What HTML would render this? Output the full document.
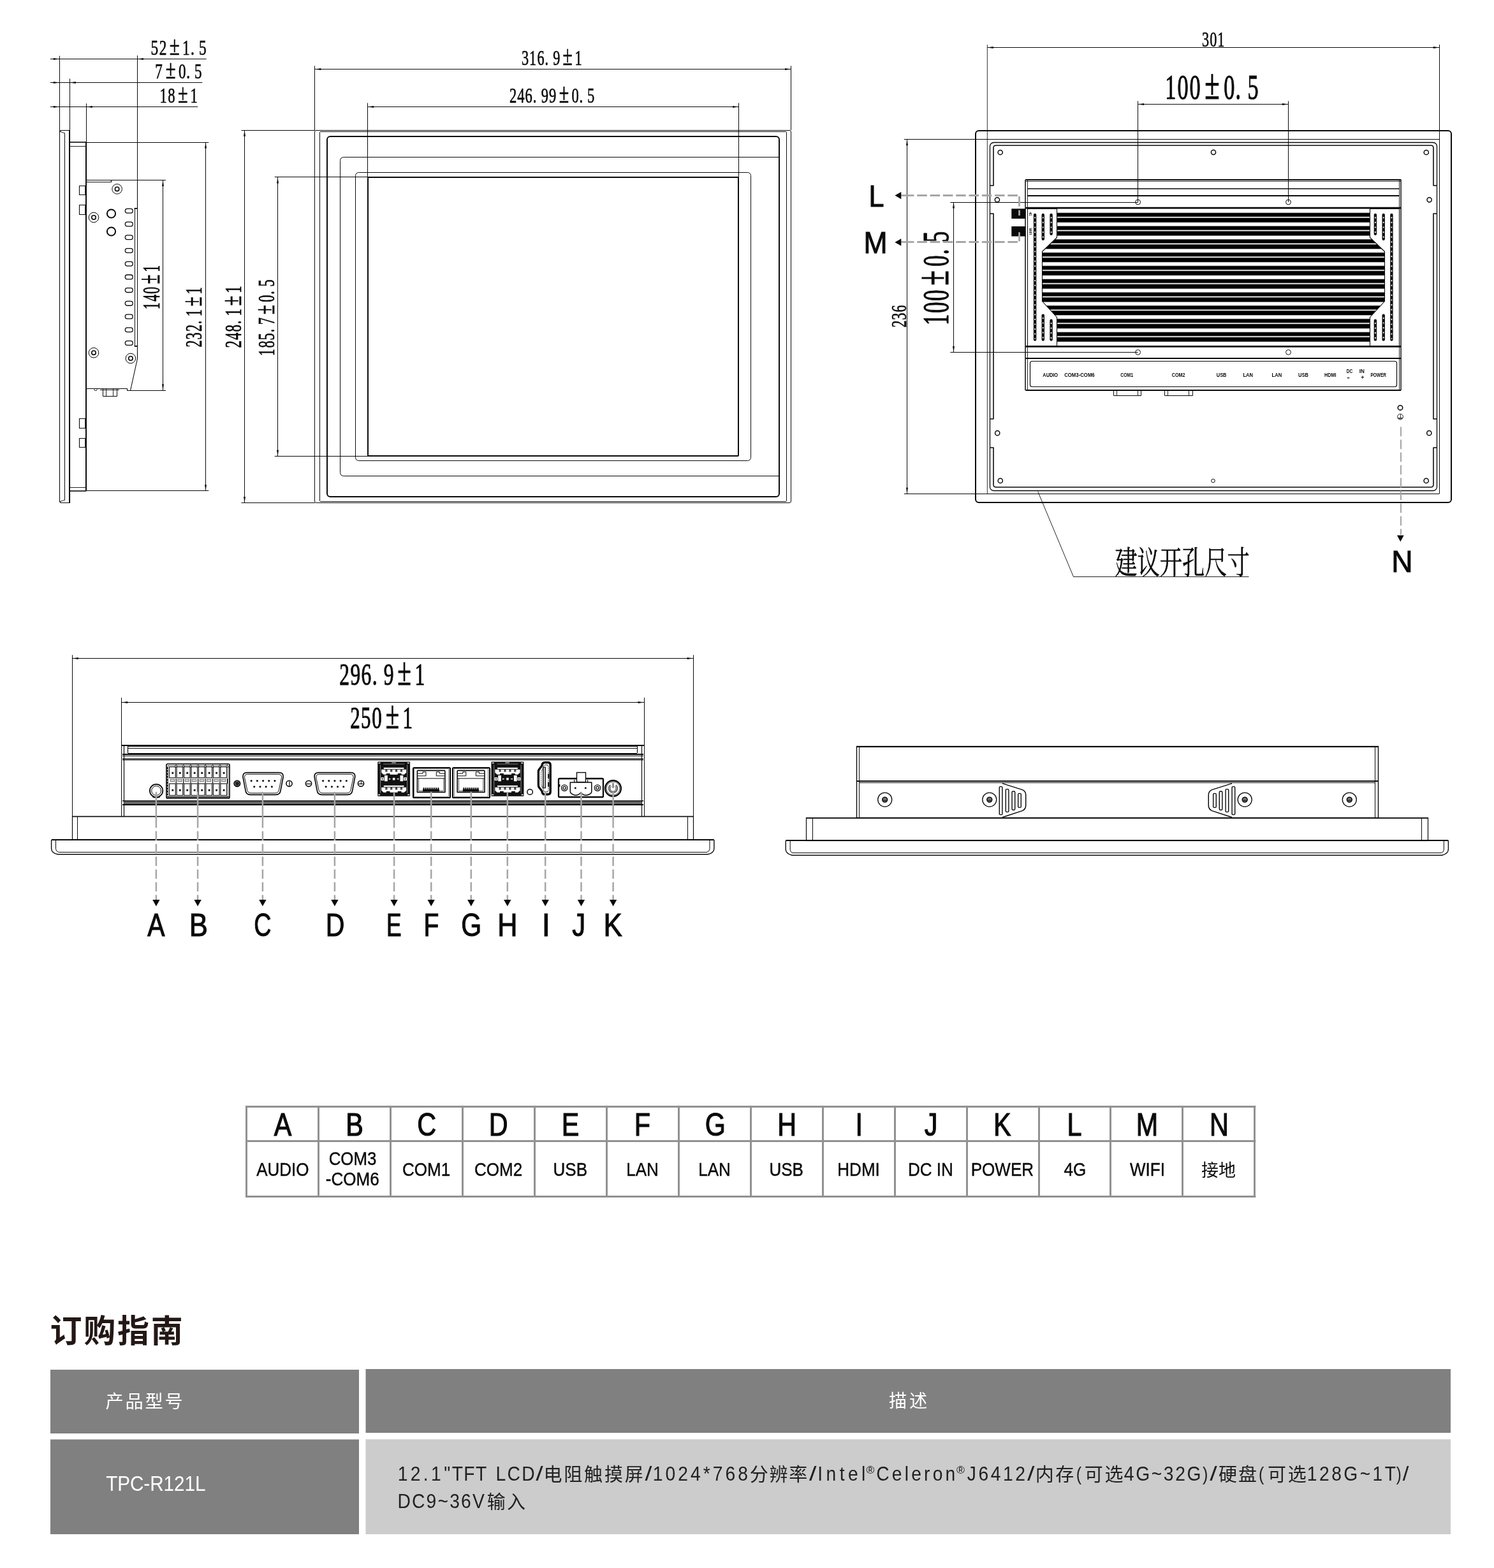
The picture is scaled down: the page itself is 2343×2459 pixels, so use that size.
<!DOCTYPE html>
<html lang="zh-CN">
<head>
<meta charset="utf-8">
<title>TPC-R121L</title>
<style>
html,body{margin:0;padding:0;background:#fff;}
body{width:2343px;height:2459px;overflow:hidden;}
svg{display:block;will-change:transform;}
text{white-space:pre;font-kerning:none;}
</style>
</head>
<body>
<svg width="2343" height="2459" viewBox="0 0 2343 2459">
<rect width="2343" height="2459" fill="#fff"/>
<g id="side-view">
<path d="M93.5 87.6L93.5 206" stroke="#0a0a0a" stroke-width="1" fill="none"/>
<path d="M109.5 123.4L109.5 205" stroke="#0a0a0a" stroke-width="1" fill="none"/>
<path d="M135.5 162.3L135.5 223" stroke="#0a0a0a" stroke-width="1" fill="none"/>
<path d="M215.5 87L215.5 327" stroke="#0a0a0a" stroke-width="1" fill="none"/>
<path d="M78.8 92.5L323.7 92.5" stroke="#0a0a0a" stroke-width="1" fill="none"/>
<polygon points="93.3,92.5 83.8,91 83.8,94" fill="#0a0a0a"/>
<polygon points="215.4,92.5 224.9,91 224.9,94" fill="#0a0a0a"/>
<path d="M78.8 129.5L317.3 129.5" stroke="#0a0a0a" stroke-width="1" fill="none"/>
<polygon points="93.3,129.5 83.8,128 83.8,131" fill="#0a0a0a"/>
<polygon points="109.3,129.5 118.8,128 118.8,131" fill="#0a0a0a"/>
<path d="M78.8 167.5L310.3 167.5" stroke="#0a0a0a" stroke-width="1" fill="none"/>
<polygon points="93.3,167.5 83.8,166 83.8,169" fill="#0a0a0a"/>
<polygon points="135.3,167.5 144.8,166 144.8,169" fill="#0a0a0a"/>
<text transform="translate(237.7 85.9) scale(0.71 1)" font-family="'Liberation Serif','Noto Serif CJK SC',serif" font-size="32.93" fill="#0a0a0a" stroke="#0a0a0a" stroke-width="0.65"><tspan x="-1.56">5</tspan><tspan x="17.07">2</tspan><tspan x="39.67" font-size="41.16">±</tspan><tspan x="68.1">1</tspan><tspan x="86.23">.</tspan><tspan x="104.51">5</tspan></text>
<text transform="translate(244.6 123) scale(0.7 1)" font-family="'Liberation Serif','Noto Serif CJK SC',serif" font-size="32.93" fill="#0a0a0a" stroke="#0a0a0a" stroke-width="0.65"><tspan x="-1.86">7</tspan><tspan x="21.54" font-size="41.16">±</tspan><tspan x="50.43">0</tspan><tspan x="68.1">.</tspan><tspan x="86.38">5</tspan></text>
<text transform="translate(251.6 160.6) scale(0.69 1)" font-family="'Liberation Serif','Noto Serif CJK SC',serif" font-size="32.93" fill="#0a0a0a" stroke="#0a0a0a" stroke-width="0.65"><tspan x="-1.71">1</tspan><tspan x="16.88">8</tspan><tspan x="39.67" font-size="41.16">±</tspan><tspan x="68.1">1</tspan></text>
<path d="M93.5 206.5L95.5 204.5H109.5V788.5H95.5L93.5 786.5Z" stroke="#0a0a0a" stroke-width="1.1" fill="none" stroke-linejoin="round"/>
<path d="M101.5 208.5L101.5 784.5" stroke="#0a0a0a" stroke-width="1" fill="none"/>
<path d="M93.6 206L101.2 208.8" stroke="#0a0a0a" stroke-width="0.9" fill="none"/>
<path d="M93.6 786.8L101.2 784.2" stroke="#0a0a0a" stroke-width="0.9" fill="none"/>
<path d="M109 204.3L109 788.5" stroke="#0a0a0a" stroke-width="1.9" fill="none"/>
<path d="M109.3 223L135.3 223" stroke="#0a0a0a" stroke-width="1.6" fill="none"/>
<path d="M109.3 229.5L135.3 229.5" stroke="#0a0a0a" stroke-width="0.9" fill="none"/>
<path d="M109.3 770L135.3 770" stroke="#0a0a0a" stroke-width="1.6" fill="none"/>
<path d="M109.3 764.5L135.3 764.5" stroke="#0a0a0a" stroke-width="0.9" fill="none"/>
<path d="M135 223L135 769.7" stroke="#0a0a0a" stroke-width="2" fill="none"/>
<path d="M135.5 291.5H124.5V305.5H135.5" stroke="#0a0a0a" stroke-width="1.1" fill="none" stroke-linejoin="round"/>
<path d="M133.5 291.3L133.5 305.5" stroke="#0a0a0a" stroke-width="0.8" fill="none"/>
<path d="M135.5 321.5H124.5V336.5H135.5" stroke="#0a0a0a" stroke-width="1.1" fill="none" stroke-linejoin="round"/>
<path d="M133.5 321.7L133.5 336.4" stroke="#0a0a0a" stroke-width="0.8" fill="none"/>
<path d="M135.5 656.5H124.5V671.5H135.5" stroke="#0a0a0a" stroke-width="1.1" fill="none" stroke-linejoin="round"/>
<path d="M133.5 656.7L133.5 671.2" stroke="#0a0a0a" stroke-width="0.8" fill="none"/>
<path d="M135.5 687.5H124.5V701.5H135.5" stroke="#0a0a0a" stroke-width="1.1" fill="none" stroke-linejoin="round"/>
<path d="M133.5 687.2L133.5 701.5" stroke="#0a0a0a" stroke-width="0.8" fill="none"/>
<path d="M135.5 282.5H215.5V326.5" stroke="#0a0a0a" stroke-width="1.1" fill="none" stroke-linejoin="round"/>
<path d="M135.5 282.5H174.5V285.5H135.5" stroke="#0a0a0a" stroke-width="1.2" fill="none" stroke-linejoin="round"/>
<path d="M215.5 542.5V562.5L204.5 612.5H199.5V609.5H135.5" stroke="#0a0a0a" stroke-width="1.1" fill="none" stroke-linejoin="round"/>
<rect x="211.5" y="326.5" width="4" height="216" stroke="#0a0a0a" stroke-width="1" fill="none"/>
<path d="M210.6 327L215.6 327" stroke="#0a0a0a" stroke-width="1.6" fill="none"/>
<path d="M210.6 543L215.6 543" stroke="#0a0a0a" stroke-width="1.6" fill="none"/>
<path d="M161.5 609.5V621.5H183.5V609.5" stroke="#0a0a0a" stroke-width="1" fill="none" stroke-linejoin="round"/>
<path d="M166.5 609.8L166.5 621.1" stroke="#0a0a0a" stroke-width="0.9" fill="none"/>
<path d="M177.5 609.8L177.5 621.1" stroke="#0a0a0a" stroke-width="0.9" fill="none"/>
<path d="M157 611.5L187 611.5" stroke="#0a0a0a" stroke-width="0.9" fill="none"/>
<path d="M147.5 609.5l1 3h3l1 -3" stroke="#0a0a0a" stroke-width="0.8" fill="none" stroke-linejoin="round"/>
<circle cx="183.6" cy="296.4" r="7.8" stroke="#0a0a0a" stroke-width="1" fill="#fff"/>
<circle cx="183.6" cy="296.4" r="3.2" stroke="#0a0a0a" stroke-width="1.6" fill="none"/>
<circle cx="147" cy="341" r="7.8" stroke="#0a0a0a" stroke-width="1" fill="#fff"/>
<circle cx="147" cy="341" r="3.2" stroke="#0a0a0a" stroke-width="1.6" fill="none"/>
<circle cx="147" cy="553.2" r="7.8" stroke="#0a0a0a" stroke-width="1" fill="#fff"/>
<circle cx="147" cy="553.2" r="3.2" stroke="#0a0a0a" stroke-width="1.6" fill="none"/>
<circle cx="204.9" cy="562" r="7.8" stroke="#0a0a0a" stroke-width="1" fill="#fff"/>
<circle cx="204.9" cy="562" r="3.2" stroke="#0a0a0a" stroke-width="1.6" fill="none"/>
<circle cx="174.5" cy="335" r="6.6" stroke="#0a0a0a" stroke-width="2" fill="none"/>
<circle cx="174.5" cy="363" r="6.6" stroke="#0a0a0a" stroke-width="2" fill="none"/>
<rect x="196.3" y="327.4" width="12" height="6.8" rx="3.4" stroke="#0a0a0a" stroke-width="1.3" fill="none"/>
<rect x="196.3" y="348.12" width="12" height="6.8" rx="3.4" stroke="#0a0a0a" stroke-width="1.3" fill="none"/>
<rect x="196.3" y="368.84" width="12" height="6.8" rx="3.4" stroke="#0a0a0a" stroke-width="1.3" fill="none"/>
<rect x="196.3" y="389.56" width="12" height="6.8" rx="3.4" stroke="#0a0a0a" stroke-width="1.3" fill="none"/>
<rect x="196.3" y="410.28" width="12" height="6.8" rx="3.4" stroke="#0a0a0a" stroke-width="1.3" fill="none"/>
<rect x="196.3" y="431" width="12" height="6.8" rx="3.4" stroke="#0a0a0a" stroke-width="1.3" fill="none"/>
<rect x="196.3" y="451.72" width="12" height="6.8" rx="3.4" stroke="#0a0a0a" stroke-width="1.3" fill="none"/>
<rect x="196.3" y="472.44" width="12" height="6.8" rx="3.4" stroke="#0a0a0a" stroke-width="1.3" fill="none"/>
<rect x="196.3" y="493.16" width="12" height="6.8" rx="3.4" stroke="#0a0a0a" stroke-width="1.3" fill="none"/>
<rect x="196.3" y="513.88" width="12" height="6.8" rx="3.4" stroke="#0a0a0a" stroke-width="1.3" fill="none"/>
<rect x="196.3" y="534.6" width="12" height="6.8" rx="3.4" stroke="#0a0a0a" stroke-width="1.3" fill="none"/>
<path d="M215.4 282.5L260 282.5" stroke="#0a0a0a" stroke-width="1" fill="none"/>
<path d="M204.6 612.5L260 612.5" stroke="#0a0a0a" stroke-width="1" fill="none"/>
<path d="M255.5 282.4L255.5 612" stroke="#0a0a0a" stroke-width="1" fill="none"/>
<polygon points="255.5,282.4 254,291.9 257,291.9" fill="#0a0a0a"/>
<polygon points="255.5,612 254,602.5 257,602.5" fill="#0a0a0a"/>
<text transform="translate(250 484) rotate(-90) scale(0.57 1)" font-family="'Liberation Serif','Noto Serif CJK SC',serif" font-size="38.37" fill="#0a0a0a" stroke="#0a0a0a" stroke-width="0.76"><tspan x="-1.99">1</tspan><tspan x="19.59">4</tspan><tspan x="40.8">0</tspan><tspan x="67.35" font-size="47.96">±</tspan><tspan x="100.48">1</tspan></text>
<path d="M135.3 223.5L327.3 223.5" stroke="#0a0a0a" stroke-width="1" fill="none"/>
<path d="M135.3 769.5L327.3 769.5" stroke="#0a0a0a" stroke-width="1" fill="none"/>
<path d="M322.5 223L322.5 769.7" stroke="#0a0a0a" stroke-width="1" fill="none"/>
<polygon points="322.5,223 321,232.5 324,232.5" fill="#0a0a0a"/>
<polygon points="322.5,769.7 321,760.2 324,760.2" fill="#0a0a0a"/>
<text transform="translate(316.4 543.7) rotate(-90) scale(0.61 1)" font-family="'Liberation Serif','Noto Serif CJK SC',serif" font-size="36.25" fill="#0a0a0a" stroke="#0a0a0a" stroke-width="0.72"><tspan x="-1.17">2</tspan><tspan x="18.43">3</tspan><tspan x="38.75">2</tspan><tspan x="58">.</tspan><tspan x="77.97">1</tspan><tspan x="103.56" font-size="45.32">±</tspan><tspan x="134.87">1</tspan></text>
<path d="M378.5 204.5L493.9 204.5" stroke="#0a0a0a" stroke-width="1" fill="none"/>
<path d="M378.5 788.5L493.9 788.5" stroke="#0a0a0a" stroke-width="1" fill="none"/>
<path d="M383.5 204.3L383.5 788.5" stroke="#0a0a0a" stroke-width="1" fill="none"/>
<polygon points="383.5,204.3 382,213.8 385,213.8" fill="#0a0a0a"/>
<polygon points="383.5,788.5 382,779 385,779" fill="#0a0a0a"/>
<text transform="translate(378 544.7) rotate(-90) scale(0.63 1)" font-family="'Liberation Serif','Noto Serif CJK SC',serif" font-size="36.25" fill="#0a0a0a" stroke="#0a0a0a" stroke-width="0.72"><tspan x="-1.17">2</tspan><tspan x="18.51">4</tspan><tspan x="38.55">8</tspan><tspan x="58">.</tspan><tspan x="77.97">1</tspan><tspan x="103.56" font-size="45.32">±</tspan><tspan x="134.87">1</tspan></text>
<path d="M430.7 277.5L577 277.5" stroke="#0a0a0a" stroke-width="1" fill="none"/>
<path d="M430.7 715.5L577 715.5" stroke="#0a0a0a" stroke-width="1" fill="none"/>
<path d="M435.5 277.9L435.5 715.2" stroke="#0a0a0a" stroke-width="1" fill="none"/>
<polygon points="435.5,277.9 434,287.4 437,287.4" fill="#0a0a0a"/>
<polygon points="435.5,715.2 434,705.7 437,705.7" fill="#0a0a0a"/>
<text transform="translate(429.5 557) rotate(-90) scale(0.62 1)" font-family="'Liberation Serif','Noto Serif CJK SC',serif" font-size="35.95" fill="#0a0a0a" stroke="#0a0a0a" stroke-width="0.71"><tspan x="-1.87">1</tspan><tspan x="18.43">8</tspan><tspan x="37.89">5</tspan><tspan x="57.52">.</tspan><tspan x="77.15">7</tspan><tspan x="102.7" font-size="44.94">±</tspan><tspan x="134.24">0</tspan><tspan x="153.53">.</tspan><tspan x="173.49">5</tspan></text>
</g>
<g id="front-view">
<path d="M493.5 103.3L493.5 204.2" stroke="#0a0a0a" stroke-width="1" fill="none"/>
<path d="M1240.5 103.3L1240.5 204.2" stroke="#0a0a0a" stroke-width="1" fill="none"/>
<path d="M493.9 108.5L1240.6 108.5" stroke="#0a0a0a" stroke-width="1" fill="none"/>
<polygon points="493.9,108.5 503.4,107 503.4,110" fill="#0a0a0a"/>
<polygon points="1240.6,108.5 1231.1,107 1231.1,110" fill="#0a0a0a"/>
<path d="M576.5 161.5L576.5 278" stroke="#0a0a0a" stroke-width="1" fill="none"/>
<path d="M1158.5 161.5L1158.5 278" stroke="#0a0a0a" stroke-width="1" fill="none"/>
<path d="M576.6 167.5L1158.6 167.5" stroke="#0a0a0a" stroke-width="1" fill="none"/>
<polygon points="576.6,167.5 586.1,166 586.1,169" fill="#0a0a0a"/>
<polygon points="1158.6,167.5 1149.1,166 1149.1,169" fill="#0a0a0a"/>
<text transform="translate(818.9 101.7) scale(0.64 1)" font-family="'Liberation Serif','Noto Serif CJK SC',serif" font-size="34.74" fill="#0a0a0a" stroke="#0a0a0a" stroke-width="0.69"><tspan x="-1.47">3</tspan><tspan x="17.33">1</tspan><tspan x="36.71">6</tspan><tspan x="55.58">.</tspan><tspan x="75.36">9</tspan><tspan x="99.25" font-size="43.43">±</tspan><tspan x="129.25">1</tspan></text>
<text transform="translate(799.7 160.8) scale(0.65 1)" font-family="'Liberation Serif','Noto Serif CJK SC',serif" font-size="34.74" fill="#0a0a0a" stroke="#0a0a0a" stroke-width="0.69"><tspan x="-1.13">2</tspan><tspan x="17.74">4</tspan><tspan x="36.71">6</tspan><tspan x="55.58">.</tspan><tspan x="75.36">9</tspan><tspan x="94.49">9</tspan><tspan x="118.38" font-size="43.43">±</tspan><tspan x="148.86">0</tspan><tspan x="167.5">.</tspan><tspan x="186.79">5</tspan></text>
<rect x="493.5" y="204.5" width="747" height="584" rx="2.5" stroke="#0a0a0a" stroke-width="1" fill="none"/>
<rect x="501.5" y="206.5" width="732" height="580" rx="1" stroke="#0a0a0a" stroke-width="1" fill="none"/>
<rect x="513" y="214" width="709" height="565" rx="5" stroke="#0a0a0a" stroke-width="2" fill="none"/>
<path d="M1221.5 246.5H539.5Q533.5 246.5 533.5 252.5V740.5Q533.5 746.5 539.5 746.5H1221.5" stroke="#0a0a0a" stroke-width="1" fill="none" stroke-linejoin="round"/>
<rect x="557.5" y="270.5" width="620" height="452" rx="5" stroke="#0a0a0a" stroke-width="1" fill="none"/>
<rect x="577" y="278" width="581" height="437" rx="1" stroke="#0a0a0a" stroke-width="2" fill="none"/>
</g>
<g id="back-view">
<path d="M1548.4 70L1548.4 774.3" stroke="#555" stroke-width="1.2" fill="none"/>
<path d="M2257.5 70L2257.5 774.3" stroke="#0a0a0a" stroke-width="1" fill="none"/>
<path d="M1417.8 218.5L2257.3 218.5" stroke="#0a0a0a" stroke-width="1" fill="none"/>
<path d="M1417.8 774.5L2257.3 774.5" stroke="#0a0a0a" stroke-width="1" fill="none"/>
<path d="M1548.3 74.5L2257.3 74.5" stroke="#0a0a0a" stroke-width="1" fill="none"/>
<polygon points="1548.3,74.5 1557.8,73 1557.8,76" fill="#0a0a0a"/>
<polygon points="2257.3,74.5 2247.8,73 2247.8,76" fill="#0a0a0a"/>
<text transform="translate(1886 73.4) scale(0.65 1)" font-family="'Liberation Serif','Noto Serif CJK SC',serif" font-size="34.14" fill="#0a0a0a" stroke="#0a0a0a" stroke-width="0.68"><tspan x="-1.45">3</tspan><tspan x="17.5">0</tspan><tspan x="35.82">1</tspan></text>
<path d="M1422.5 218.4L1422.5 774.3" stroke="#0a0a0a" stroke-width="1" fill="none"/>
<polygon points="1422.5,218.4 1421,227.9 1424,227.9" fill="#0a0a0a"/>
<polygon points="1422.5,774.3 1421,764.8 1424,764.8" fill="#0a0a0a"/>
<text transform="translate(1421.3 512.9) rotate(-90) scale(0.64 1)" font-family="'Liberation Serif','Noto Serif CJK SC',serif" font-size="34.44" fill="#0a0a0a" stroke="#0a0a0a" stroke-width="0.68"><tspan x="-1.12">2</tspan><tspan x="17.5">3</tspan><tspan x="36.39">6</tspan></text>
<path d="M1784.6 163.5L2020.5 163.5" stroke="#0a0a0a" stroke-width="1" fill="none"/>
<polygon points="1784.6,163.5 1794.1,162 1794.1,165" fill="#0a0a0a"/>
<polygon points="2020.5,163.5 2011,162 2011,165" fill="#0a0a0a"/>
<text transform="translate(1829 154.5) scale(0.63 1)" font-family="'Liberation Serif','Noto Serif CJK SC',serif" font-size="54.38" fill="#0a0a0a" stroke="#0a0a0a" stroke-width="1.08"><tspan x="-2.82">1</tspan><tspan x="27.88">0</tspan><tspan x="57.82">0</tspan><tspan x="95.45" font-size="67.98">±</tspan><tspan x="143.17">0</tspan><tspan x="172.34">.</tspan><tspan x="202.54">5</tspan></text>
<path d="M1495.5 317L1495.5 552.4" stroke="#0a0a0a" stroke-width="1" fill="none"/>
<polygon points="1495.5,317 1494,326.5 1497,326.5" fill="#0a0a0a"/>
<polygon points="1495.5,552.4 1494,542.9 1497,542.9" fill="#0a0a0a"/>
<text transform="translate(1487.1 508.3) rotate(-90) scale(0.6 1)" font-family="'Liberation Serif','Noto Serif CJK SC',serif" font-size="57.4" fill="#0a0a0a" stroke="#0a0a0a" stroke-width="1.14"><tspan x="-2.98">1</tspan><tspan x="29.43">0</tspan><tspan x="61.04">0</tspan><tspan x="100.76" font-size="71.75">±</tspan><tspan x="151.12">0</tspan><tspan x="181.91">.</tspan><tspan x="213.79">5</tspan></text>
<rect x="1530" y="205" width="746" height="583" rx="5" stroke="#0a0a0a" stroke-width="2" fill="none"/>
<rect x="1552.5" y="223.5" width="701" height="546" rx="6" stroke="#0a0a0a" stroke-width="1.3" fill="none"/>
<path d="M1553 291H1558V232Q1558 228 1562 228H1903" stroke="#0a0a0a" stroke-width="1.6" fill="none" stroke-linejoin="round"/>
<path d="M1553 335H1558V657H1553" stroke="#0a0a0a" stroke-width="1.6" fill="none" stroke-linejoin="round"/>
<path d="M1553 702H1558V760Q1558 764 1562 764H1903" stroke="#0a0a0a" stroke-width="1.6" fill="none" stroke-linejoin="round"/>
<path d="M2253 291H2248V232Q2248 228 2244 228H1903" stroke="#0a0a0a" stroke-width="1.6" fill="none" stroke-linejoin="round"/>
<path d="M2253 335H2248V657H2253" stroke="#0a0a0a" stroke-width="1.6" fill="none" stroke-linejoin="round"/>
<path d="M2253 702H2248V760Q2248 764 2244 764H1903" stroke="#0a0a0a" stroke-width="1.6" fill="none" stroke-linejoin="round"/>
<circle cx="1568.7" cy="239" r="3.6" stroke="#0a0a0a" stroke-width="1.5" fill="none"/>
<circle cx="2236.8" cy="239" r="3.6" stroke="#0a0a0a" stroke-width="1.5" fill="none"/>
<circle cx="1563.9" cy="313.3" r="3.6" stroke="#0a0a0a" stroke-width="1.5" fill="none"/>
<circle cx="2241.6" cy="313.3" r="3.6" stroke="#0a0a0a" stroke-width="1.5" fill="none"/>
<circle cx="1564.2" cy="679.2" r="3.6" stroke="#0a0a0a" stroke-width="1.5" fill="none"/>
<circle cx="2241.3" cy="679.2" r="3.6" stroke="#0a0a0a" stroke-width="1.5" fill="none"/>
<circle cx="1568.8" cy="753.9" r="3.6" stroke="#0a0a0a" stroke-width="1.5" fill="none"/>
<circle cx="2236.7" cy="753.9" r="3.6" stroke="#0a0a0a" stroke-width="1.5" fill="none"/>
<circle cx="1903" cy="238.8" r="3.6" stroke="#0a0a0a" stroke-width="1.5" fill="none"/>
<circle cx="1902.5" cy="754" r="2.8" stroke="#0a0a0a" stroke-width="1" fill="none"/>
<rect x="1608.4" y="281.8" width="588.7" height="330.2" fill="#fff"/>
<rect x="1634" y="333.4" width="537.5" height="6.9" fill="#8a8a8a"/>
<rect x="1634" y="334.1" width="537.5" height="5.5" fill="#000"/>
<rect x="1634" y="341.4" width="537.5" height="7.7" fill="#8a8a8a"/>
<rect x="1634" y="342" width="537.5" height="6.5" fill="#000"/>
<rect x="1634" y="354.19" width="537.5" height="6.9" fill="#8a8a8a"/>
<rect x="1634" y="354.89" width="537.5" height="5.5" fill="#000"/>
<rect x="1634" y="362.19" width="537.5" height="7.7" fill="#8a8a8a"/>
<rect x="1634" y="362.79" width="537.5" height="6.5" fill="#000"/>
<rect x="1634" y="374.98" width="537.5" height="6.9" fill="#8a8a8a"/>
<rect x="1634" y="375.68" width="537.5" height="5.5" fill="#000"/>
<rect x="1634" y="382.98" width="537.5" height="7.7" fill="#8a8a8a"/>
<rect x="1634" y="383.58" width="537.5" height="6.5" fill="#000"/>
<rect x="1634" y="395.77" width="537.5" height="6.9" fill="#8a8a8a"/>
<rect x="1634" y="396.47" width="537.5" height="5.5" fill="#000"/>
<rect x="1634" y="403.77" width="537.5" height="7.7" fill="#8a8a8a"/>
<rect x="1634" y="404.37" width="537.5" height="6.5" fill="#000"/>
<rect x="1634" y="416.56" width="537.5" height="6.9" fill="#8a8a8a"/>
<rect x="1634" y="417.26" width="537.5" height="5.5" fill="#000"/>
<rect x="1634" y="424.56" width="537.5" height="7.7" fill="#8a8a8a"/>
<rect x="1634" y="425.16" width="537.5" height="6.5" fill="#000"/>
<rect x="1634" y="437.35" width="537.5" height="6.9" fill="#8a8a8a"/>
<rect x="1634" y="438.05" width="537.5" height="5.5" fill="#000"/>
<rect x="1634" y="445.35" width="537.5" height="7.7" fill="#8a8a8a"/>
<rect x="1634" y="445.95" width="537.5" height="6.5" fill="#000"/>
<rect x="1634" y="458.14" width="537.5" height="6.9" fill="#8a8a8a"/>
<rect x="1634" y="458.84" width="537.5" height="5.5" fill="#000"/>
<rect x="1634" y="466.14" width="537.5" height="7.7" fill="#8a8a8a"/>
<rect x="1634" y="466.74" width="537.5" height="6.5" fill="#000"/>
<rect x="1634" y="478.93" width="537.5" height="6.9" fill="#8a8a8a"/>
<rect x="1634" y="479.63" width="537.5" height="5.5" fill="#000"/>
<rect x="1634" y="486.93" width="537.5" height="7.7" fill="#8a8a8a"/>
<rect x="1634" y="487.53" width="537.5" height="6.5" fill="#000"/>
<rect x="1634" y="499.72" width="537.5" height="6.9" fill="#8a8a8a"/>
<rect x="1634" y="500.42" width="537.5" height="5.5" fill="#000"/>
<rect x="1634" y="507.72" width="537.5" height="7.7" fill="#8a8a8a"/>
<rect x="1634" y="508.32" width="537.5" height="6.5" fill="#000"/>
<rect x="1634" y="520.51" width="537.5" height="6.9" fill="#8a8a8a"/>
<rect x="1634" y="521.21" width="537.5" height="5.5" fill="#000"/>
<rect x="1634" y="528.51" width="537.5" height="7.7" fill="#8a8a8a"/>
<rect x="1634" y="529.11" width="537.5" height="6.5" fill="#000"/>
<path d="M1611.5 327.5H1657.5V372.5L1634.5 394.5V472.5L1657.5 497.5V542.5H1611.5Z" stroke="#0a0a0a" stroke-width="1.1" fill="#fff" stroke-linejoin="round"/>
<rect x="1620.9" y="334.8" width="4.4" height="199.9" rx="2.2" fill="#0a0a0a"/>
<path d="M1623.1 340.2L1623.1 531.7" stroke="#fff" stroke-width="1.7" fill="none" stroke-dasharray="2.2 5.4" stroke-linecap="butt"/>
<rect x="1633.6" y="334.8" width="4.4" height="42.2" rx="2.2" fill="#0a0a0a"/>
<path d="M1635.8 340.2L1635.8 374" stroke="#fff" stroke-width="1.7" fill="none" stroke-dasharray="2.2 5.4" stroke-linecap="butt"/>
<rect x="1633.6" y="492.4" width="4.4" height="42.3" rx="2.2" fill="#0a0a0a"/>
<path d="M1635.8 497.8L1635.8 531.7" stroke="#fff" stroke-width="1.7" fill="none" stroke-dasharray="2.2 5.4" stroke-linecap="butt"/>
<rect x="1646.4" y="334.8" width="4.4" height="34.1" rx="2.2" fill="#0a0a0a"/>
<path d="M1648.6 340.2L1648.6 365.9" stroke="#fff" stroke-width="1.7" fill="none" stroke-dasharray="2.2 5.4" stroke-linecap="butt"/>
<rect x="1646.4" y="500.5" width="4.4" height="34.2" rx="2.2" fill="#0a0a0a"/>
<path d="M1648.6 505.9L1648.6 531.7" stroke="#fff" stroke-width="1.7" fill="none" stroke-dasharray="2.2 5.4" stroke-linecap="butt"/>
<path d="M1608 281.8L1608 612" stroke="#0a0a0a" stroke-width="1.5" fill="none"/>
<path d="M1611.5 281.8L1611.5 612" stroke="#0a0a0a" stroke-width="0.9" fill="none"/>
<path d="M2194.5 327.5H2148.5V372.5L2171.5 394.5V472.5L2148.5 497.5V542.5H2194.5Z" stroke="#0a0a0a" stroke-width="1.1" fill="#fff" stroke-linejoin="round"/>
<rect x="2180.2" y="334.8" width="4.4" height="199.9" rx="2.2" fill="#0a0a0a"/>
<path d="M2182.4 340.2L2182.4 531.7" stroke="#fff" stroke-width="1.7" fill="none" stroke-dasharray="2.2 5.4" stroke-linecap="butt"/>
<rect x="2167.5" y="334.8" width="4.4" height="42.2" rx="2.2" fill="#0a0a0a"/>
<path d="M2169.7 340.2L2169.7 374" stroke="#fff" stroke-width="1.7" fill="none" stroke-dasharray="2.2 5.4" stroke-linecap="butt"/>
<rect x="2167.5" y="492.4" width="4.4" height="42.3" rx="2.2" fill="#0a0a0a"/>
<path d="M2169.7 497.8L2169.7 531.7" stroke="#fff" stroke-width="1.7" fill="none" stroke-dasharray="2.2 5.4" stroke-linecap="butt"/>
<rect x="2154.7" y="334.8" width="4.4" height="34.1" rx="2.2" fill="#0a0a0a"/>
<path d="M2156.9 340.2L2156.9 365.9" stroke="#fff" stroke-width="1.7" fill="none" stroke-dasharray="2.2 5.4" stroke-linecap="butt"/>
<rect x="2154.7" y="500.5" width="4.4" height="34.2" rx="2.2" fill="#0a0a0a"/>
<path d="M2156.9 505.9L2156.9 531.7" stroke="#fff" stroke-width="1.7" fill="none" stroke-dasharray="2.2 5.4" stroke-linecap="butt"/>
<path d="M2197 281.8L2197 612" stroke="#0a0a0a" stroke-width="1.5" fill="none"/>
<path d="M2194.5 281.8L2194.5 612" stroke="#0a0a0a" stroke-width="0.9" fill="none"/>
<path d="M1608.4 282L2197.1 282" stroke="#0a0a0a" stroke-width="1.8" fill="none"/>
<path d="M1608.4 284.5L2197.1 284.5" stroke="#0a0a0a" stroke-width="0.8" fill="none"/>
<path d="M1611 296L2194.5 296" stroke="#0a0a0a" stroke-width="1.6" fill="none"/>
<path d="M1611 307L2194.5 307" stroke="#0a0a0a" stroke-width="1.9" fill="none"/>
<path d="M1608.4 326.2L2197.1 326.2" stroke="#0a0a0a" stroke-width="2.8" fill="none"/>
<path d="M1608.4 543.4L2197.1 543.4" stroke="#0a0a0a" stroke-width="2.8" fill="none"/>
<path d="M1608.4 562L2197.1 562" stroke="#0a0a0a" stroke-width="2" fill="none"/>
<path d="M1608.4 612L2197.1 612" stroke="#0a0a0a" stroke-width="2.2" fill="none"/>
<path d="M1784.5 158.5L1784.5 317" stroke="#0a0a0a" stroke-width="1" fill="none"/>
<path d="M2020.5 158.5L2020.5 317" stroke="#0a0a0a" stroke-width="1" fill="none"/>
<path d="M1490.3 317.5L1784.6 317.5" stroke="#0a0a0a" stroke-width="1" fill="none"/>
<path d="M1490.3 552.5L1784.6 552.5" stroke="#0a0a0a" stroke-width="1" fill="none"/>
<circle cx="1784.6" cy="317" r="3.9" stroke="#0a0a0a" stroke-width="1" fill="none"/>
<circle cx="2020.5" cy="317" r="3.9" stroke="#0a0a0a" stroke-width="1" fill="none"/>
<circle cx="1784.6" cy="552.4" r="3.9" stroke="#0a0a0a" stroke-width="1" fill="none"/>
<circle cx="2020.5" cy="552.4" r="3.9" stroke="#0a0a0a" stroke-width="1" fill="none"/>
<rect x="1615.5" y="566.5" width="575" height="40" rx="3" stroke="#0a0a0a" stroke-width="1.2" fill="none"/>
<text x="1635.3" y="590.6" font-family="'Liberation Sans','Noto Sans CJK SC',sans-serif" font-size="9.6" fill="#0a0a0a" textLength="23.8" lengthAdjust="spacingAndGlyphs" font-weight="bold">AUDIO</text>
<text x="1669.2" y="590.6" font-family="'Liberation Sans','Noto Sans CJK SC',sans-serif" font-size="9.6" fill="#0a0a0a" textLength="47.5" lengthAdjust="spacingAndGlyphs" font-weight="bold">COM3-COM6</text>
<text x="1757.2" y="590.6" font-family="'Liberation Sans','Noto Sans CJK SC',sans-serif" font-size="9.6" fill="#0a0a0a" textLength="19.8" lengthAdjust="spacingAndGlyphs" font-weight="bold">COM1</text>
<text x="1837.8" y="590.6" font-family="'Liberation Sans','Noto Sans CJK SC',sans-serif" font-size="9.6" fill="#0a0a0a" textLength="20.7" lengthAdjust="spacingAndGlyphs" font-weight="bold">COM2</text>
<text x="1907.8" y="590.6" font-family="'Liberation Sans','Noto Sans CJK SC',sans-serif" font-size="9.6" fill="#0a0a0a" textLength="15.7" lengthAdjust="spacingAndGlyphs" font-weight="bold">USB</text>
<text x="1949.5" y="590.6" font-family="'Liberation Sans','Noto Sans CJK SC',sans-serif" font-size="9.6" fill="#0a0a0a" textLength="15.5" lengthAdjust="spacingAndGlyphs" font-weight="bold">LAN</text>
<text x="1994.5" y="590.6" font-family="'Liberation Sans','Noto Sans CJK SC',sans-serif" font-size="9.6" fill="#0a0a0a" textLength="15.7" lengthAdjust="spacingAndGlyphs" font-weight="bold">LAN</text>
<text x="2036" y="590.6" font-family="'Liberation Sans','Noto Sans CJK SC',sans-serif" font-size="9.6" fill="#0a0a0a" textLength="15.8" lengthAdjust="spacingAndGlyphs" font-weight="bold">USB</text>
<text x="2077" y="590.6" font-family="'Liberation Sans','Noto Sans CJK SC',sans-serif" font-size="9.6" fill="#0a0a0a" textLength="18.5" lengthAdjust="spacingAndGlyphs" font-weight="bold">HDMI</text>
<text x="2149.5" y="590.6" font-family="'Liberation Sans','Noto Sans CJK SC',sans-serif" font-size="9.6" fill="#0a0a0a" textLength="24.5" lengthAdjust="spacingAndGlyphs" font-weight="bold">POWER</text>
<text x="2111.7" y="585.4" font-family="'Liberation Sans','Noto Sans CJK SC',sans-serif" font-size="8.4" fill="#0a0a0a" textLength="9.4" lengthAdjust="spacingAndGlyphs" font-weight="bold">DC</text>
<text x="2131.8" y="585.4" font-family="'Liberation Sans','Noto Sans CJK SC',sans-serif" font-size="8.4" fill="#0a0a0a" textLength="8.1" lengthAdjust="spacingAndGlyphs" font-weight="bold">IN</text>
<text x="2112.2" y="594.6" font-family="'Liberation Sans','Noto Sans CJK SC',sans-serif" font-size="10" fill="#0a0a0a" textLength="4.6" lengthAdjust="spacingAndGlyphs" font-weight="bold">-</text>
<text x="2134.2" y="595" font-family="'Liberation Sans','Noto Sans CJK SC',sans-serif" font-size="8.4" fill="#0a0a0a" textLength="5.2" lengthAdjust="spacingAndGlyphs" font-weight="bold">+</text>
<path d="M1746.5 612.5V620.5H1789.5V612.5" stroke="#0a0a0a" stroke-width="1" fill="none" stroke-linejoin="round"/>
<path d="M1751.5 612L1751.5 620.9" stroke="#0a0a0a" stroke-width="0.9" fill="none"/>
<path d="M1784.5 612L1784.5 620.9" stroke="#0a0a0a" stroke-width="0.9" fill="none"/>
<path d="M1826.5 612.5V620.5H1870.5V612.5" stroke="#0a0a0a" stroke-width="1" fill="none" stroke-linejoin="round"/>
<path d="M1831.5 612L1831.5 620.9" stroke="#0a0a0a" stroke-width="0.9" fill="none"/>
<path d="M1864.5 612L1864.5 620.9" stroke="#0a0a0a" stroke-width="0.9" fill="none"/>
<rect x="1586.3" y="327.3" width="22.1" height="15.6" fill="#0a0a0a"/>
<rect x="1586.3" y="355" width="22.1" height="15.6" fill="#0a0a0a"/>
<path d="M1413.3 306.5L1433.5 306.5" stroke="#a6a6a6" stroke-width="2.8" fill="none"/>
<path d="M1438.3 306.5L1598.4 306.5" stroke="#a6a6a6" stroke-width="2.8" fill="none" stroke-dasharray="15.5 4.8"/>
<path d="M1413.3 379.5L1433.5 379.5" stroke="#a6a6a6" stroke-width="2.8" fill="none"/>
<path d="M1438.3 379.5L1598.4 379.5" stroke="#a6a6a6" stroke-width="2.8" fill="none" stroke-dasharray="15.5 4.8"/>
<path d="M1598.5 308L1598.5 323.6" stroke="#a6a6a6" stroke-width="2.8" fill="none"/>
<path d="M1598.5 329.5L1598.5 338" stroke="#a6a6a6" stroke-width="2.8" fill="none"/>
<path d="M1598.5 364.2L1598.5 378.5" stroke="#a6a6a6" stroke-width="2.8" fill="none"/>
<polygon points="1403.4,306.6 1413.3,301 1413.3,312.2" fill="#0a0a0a"/>
<polygon points="1403.4,379.9 1413.3,374.3 1413.3,385.5" fill="#0a0a0a"/>
<text x="1362.47" y="323.8" font-family="'Liberation Sans','Noto Sans CJK SC',sans-serif" font-size="48.7" fill="#0a0a0a" textLength="23.97" lengthAdjust="spacingAndGlyphs" stroke="#0a0a0a" stroke-width="1.1">L</text>
<text x="1354.55" y="396.8" font-family="'Liberation Sans','Noto Sans CJK SC',sans-serif" font-size="48.7" fill="#0a0a0a" textLength="37.11" lengthAdjust="spacingAndGlyphs" stroke="#0a0a0a" stroke-width="1.1">M</text>
<text x="1613.8" y="332.4" font-family="'Liberation Sans','Noto Sans CJK SC',sans-serif" font-size="5.6" fill="#0a0a0a" textLength="6.2" lengthAdjust="spacingAndGlyphs" font-weight="bold" transform="rotate(90 1613.8 332.4)">4G</text>
<text x="1613.8" y="357.6" font-family="'Liberation Sans','Noto Sans CJK SC',sans-serif" font-size="5.6" fill="#0a0a0a" textLength="10.6" lengthAdjust="spacingAndGlyphs" font-weight="bold" transform="rotate(90 1613.8 357.6)">WIFI</text>
<circle cx="2196" cy="639.4" r="3.7" stroke="#0a0a0a" stroke-width="1.6" fill="none"/>
<circle cx="2196" cy="653.6" r="4.4" stroke="#0a0a0a" stroke-width="0.9" fill="none"/>
<path d="M2196.5 649.6L2196.5 655" stroke="#0a0a0a" stroke-width="0.8" fill="none"/>
<path d="M2192 655.5L2200 655.5" stroke="#0a0a0a" stroke-width="0.8" fill="none"/>
<path d="M2193.6 656.5L2198.4 656.5" stroke="#0a0a0a" stroke-width="0.7" fill="none"/>
<path d="M2197 669.6L2197 838.6" stroke="#a6a6a6" stroke-width="2" fill="none" stroke-dasharray="14.6 5.4"/>
<polygon points="2196.3,849.6 2190.9,839.6 2201.7,839.6" fill="#0a0a0a"/>
<text x="2182.21" y="897.4" font-family="'Liberation Sans','Noto Sans CJK SC',sans-serif" font-size="48.7" fill="#0a0a0a" textLength="33.36" lengthAdjust="spacingAndGlyphs" stroke="#0a0a0a" stroke-width="1.1">N</text>
<path d="M1627.5 770.5L1683.5 904.5H1958.5" stroke="#0a0a0a" stroke-width="0.9" fill="none" stroke-linejoin="round"/>
<text x="1748.38" y="899.6" font-family="'Liberation Serif','Noto Serif CJK SC',serif" font-size="50.5" fill="#0a0a0a" textLength="211.43" lengthAdjust="spacingAndGlyphs" stroke="#0a0a0a" stroke-width="0.5">建议开孔尺寸</text>
</g>
<g id="io-view">
<path d="M113.5 1027.2L113.5 1280" stroke="#0a0a0a" stroke-width="1" fill="none"/>
<path d="M1087.5 1027.2L1087.5 1280" stroke="#0a0a0a" stroke-width="1" fill="none"/>
<path d="M113.4 1032.5L1087.1 1032.5" stroke="#0a0a0a" stroke-width="1" fill="none"/>
<polygon points="113.4,1032.5 122.9,1031 122.9,1034" fill="#0a0a0a"/>
<polygon points="1087.1,1032.5 1077.6,1031 1077.6,1034" fill="#0a0a0a"/>
<path d="M190.5 1094.3L190.5 1280" stroke="#0a0a0a" stroke-width="1" fill="none"/>
<path d="M1010.5 1094.3L1010.5 1280" stroke="#0a0a0a" stroke-width="1" fill="none"/>
<path d="M190.7 1101.5L1010 1101.5" stroke="#0a0a0a" stroke-width="1" fill="none"/>
<polygon points="190.7,1101.5 200.2,1100 200.2,1103" fill="#0a0a0a"/>
<polygon points="1010,1101.5 1000.5,1100 1000.5,1103" fill="#0a0a0a"/>
<text transform="translate(533.3 1074.2) scale(0.64 1)" font-family="'Liberation Serif','Noto Serif CJK SC',serif" font-size="49.24" fill="#0a0a0a" stroke="#0a0a0a" stroke-width="0.98"><tspan x="-1.59">2</tspan><tspan x="25.46">9</tspan><tspan x="52.04">6</tspan><tspan x="78.78">.</tspan><tspan x="106.81">9</tspan><tspan x="140.67" font-size="61.56">±</tspan><tspan x="183.19">1</tspan></text>
<text transform="translate(550.3 1142.3) scale(0.63 1)" font-family="'Liberation Serif','Noto Serif CJK SC',serif" font-size="49.24" fill="#0a0a0a" stroke="#0a0a0a" stroke-width="0.98"><tspan x="-1.59">2</tspan><tspan x="24.78">5</tspan><tspan x="52.36">0</tspan><tspan x="86.44" font-size="61.56">±</tspan><tspan x="128.96">1</tspan></text>
<rect x="191" y="1169" width="819" height="111" fill="#fff"/>
<path d="M190.5 1094.3L190.5 1280" stroke="#0a0a0a" stroke-width="1" fill="none"/>
<path d="M1010.5 1094.3L1010.5 1280" stroke="#0a0a0a" stroke-width="1" fill="none"/>
<path d="M190.7 1169L1010 1169" stroke="#0a0a0a" stroke-width="2" fill="none"/>
<path d="M200.5 1170.5L999 1170.5" stroke="#0a0a0a" stroke-width="1" fill="none"/>
<path d="M200.5 1173.5L999 1173.5" stroke="#0a0a0a" stroke-width="1" fill="none"/>
<path d="M200.5 1181.5L999 1181.5" stroke="#0a0a0a" stroke-width="1" fill="none"/>
<path d="M200.5 1170L200.5 1181" stroke="#0a0a0a" stroke-width="1.2" fill="none"/>
<path d="M999.5 1170L999.5 1181" stroke="#0a0a0a" stroke-width="1.2" fill="none"/>
<path d="M192 1183L1009 1183" stroke="#0a0a0a" stroke-width="2" fill="none"/>
<path d="M192 1185.5L1009 1185.5" stroke="#0a0a0a" stroke-width="1" fill="none"/>
<path d="M192 1189.5L1009 1189.5" stroke="#333" stroke-width="0.9" fill="none"/>
<path d="M192 1191.4L1009 1191.4" stroke="#0a0a0a" stroke-width="1.6" fill="none"/>
<path d="M194.5 1169L194.5 1280" stroke="#0a0a0a" stroke-width="1.2" fill="none"/>
<path d="M1006.5 1169L1006.5 1280" stroke="#0a0a0a" stroke-width="1.2" fill="none"/>
<rect x="194.4" y="1256" width="811.8" height="6.2" fill="#666"/>
<path d="M192 1256L1009 1256" stroke="#0a0a0a" stroke-width="1.6" fill="none"/>
<path d="M192 1262L1009 1262" stroke="#0a0a0a" stroke-width="1.8" fill="none"/>
<circle cx="245.1" cy="1240" r="10.2" stroke="#0a0a0a" stroke-width="1.8" fill="#fff"/>
<circle cx="245.1" cy="1240" r="7.4" stroke="#0a0a0a" stroke-width="1" fill="none"/>
<path d="M239.4 1249.8Q245 1252 250.8 1249.8" stroke="#0a0a0a" stroke-width="1.6" fill="none" stroke-linejoin="round"/>
<rect x="261" y="1198" width="99" height="54" rx="2" stroke="#0a0a0a" stroke-width="1.7" fill="#fff"/>
<rect x="263.5" y="1200.5" width="94" height="50" stroke="#444" stroke-width="0.8" fill="none"/>
<path d="M262 1249.6L359 1249.6" stroke="#0a0a0a" stroke-width="1.4" fill="none"/>
<rect x="265.6" y="1202.6" width="9.6" height="17.2" stroke="#0a0a0a" stroke-width="1.1" fill="#fff"/>
<rect x="269.4" y="1210.8" width="2.8" height="2.8" fill="#0a0a0a"/>
<rect x="265.6" y="1229" width="9.6" height="18.4" stroke="#0a0a0a" stroke-width="1.1" fill="#fff"/>
<rect x="269.4" y="1237.8" width="2.8" height="2.8" fill="#0a0a0a"/>
<polygon points="274,1203 276.2,1199.2 278.2,1203" fill="#fff" stroke="#0a0a0a" stroke-width="0.9"/>
<rect x="267.2" y="1222.2" width="6.4" height="3.4" stroke="#555" stroke-width="0.8" fill="#ddd"/>
<path d="M276.2 1221L276.2 1229" stroke="#0a0a0a" stroke-width="1.2" fill="none"/>
<rect x="277.07" y="1202.6" width="9.6" height="17.2" stroke="#0a0a0a" stroke-width="1.1" fill="#fff"/>
<rect x="280.87" y="1210.8" width="2.8" height="2.8" fill="#0a0a0a"/>
<rect x="277.07" y="1229" width="9.6" height="18.4" stroke="#0a0a0a" stroke-width="1.1" fill="#fff"/>
<rect x="280.87" y="1237.8" width="2.8" height="2.8" fill="#0a0a0a"/>
<polygon points="285.47,1203 287.67,1199.2 289.67,1203" fill="#fff" stroke="#0a0a0a" stroke-width="0.9"/>
<rect x="278.67" y="1222.2" width="6.4" height="3.4" stroke="#555" stroke-width="0.8" fill="#ddd"/>
<path d="M287.67 1221L287.67 1229" stroke="#0a0a0a" stroke-width="1.2" fill="none"/>
<rect x="288.54" y="1202.6" width="9.6" height="17.2" stroke="#0a0a0a" stroke-width="1.1" fill="#fff"/>
<rect x="292.34" y="1210.8" width="2.8" height="2.8" fill="#0a0a0a"/>
<rect x="288.54" y="1229" width="9.6" height="18.4" stroke="#0a0a0a" stroke-width="1.1" fill="#fff"/>
<rect x="292.34" y="1237.8" width="2.8" height="2.8" fill="#0a0a0a"/>
<polygon points="296.94,1203 299.14,1199.2 301.14,1203" fill="#fff" stroke="#0a0a0a" stroke-width="0.9"/>
<rect x="290.14" y="1222.2" width="6.4" height="3.4" stroke="#555" stroke-width="0.8" fill="#ddd"/>
<path d="M299.14 1221L299.14 1229" stroke="#0a0a0a" stroke-width="1.2" fill="none"/>
<rect x="300.01" y="1202.6" width="9.6" height="17.2" stroke="#0a0a0a" stroke-width="1.1" fill="#fff"/>
<rect x="303.81" y="1210.8" width="2.8" height="2.8" fill="#0a0a0a"/>
<rect x="300.01" y="1229" width="9.6" height="18.4" stroke="#0a0a0a" stroke-width="1.1" fill="#fff"/>
<rect x="303.81" y="1237.8" width="2.8" height="2.8" fill="#0a0a0a"/>
<polygon points="308.41,1203 310.61,1199.2 312.61,1203" fill="#fff" stroke="#0a0a0a" stroke-width="0.9"/>
<rect x="301.61" y="1222.2" width="6.4" height="3.4" stroke="#555" stroke-width="0.8" fill="#ddd"/>
<path d="M310.61 1221L310.61 1229" stroke="#0a0a0a" stroke-width="1.2" fill="none"/>
<rect x="311.48" y="1202.6" width="9.6" height="17.2" stroke="#0a0a0a" stroke-width="1.1" fill="#fff"/>
<rect x="315.28" y="1210.8" width="2.8" height="2.8" fill="#0a0a0a"/>
<rect x="311.48" y="1229" width="9.6" height="18.4" stroke="#0a0a0a" stroke-width="1.1" fill="#fff"/>
<rect x="315.28" y="1237.8" width="2.8" height="2.8" fill="#0a0a0a"/>
<polygon points="319.88,1203 322.08,1199.2 324.08,1203" fill="#fff" stroke="#0a0a0a" stroke-width="0.9"/>
<rect x="313.08" y="1222.2" width="6.4" height="3.4" stroke="#555" stroke-width="0.8" fill="#ddd"/>
<path d="M322.08 1221L322.08 1229" stroke="#0a0a0a" stroke-width="1.2" fill="none"/>
<rect x="322.95" y="1202.6" width="9.6" height="17.2" stroke="#0a0a0a" stroke-width="1.1" fill="#fff"/>
<rect x="326.75" y="1210.8" width="2.8" height="2.8" fill="#0a0a0a"/>
<rect x="322.95" y="1229" width="9.6" height="18.4" stroke="#0a0a0a" stroke-width="1.1" fill="#fff"/>
<rect x="326.75" y="1237.8" width="2.8" height="2.8" fill="#0a0a0a"/>
<polygon points="331.35,1203 333.55,1199.2 335.55,1203" fill="#fff" stroke="#0a0a0a" stroke-width="0.9"/>
<rect x="324.55" y="1222.2" width="6.4" height="3.4" stroke="#555" stroke-width="0.8" fill="#ddd"/>
<path d="M333.55 1221L333.55 1229" stroke="#0a0a0a" stroke-width="1.2" fill="none"/>
<rect x="334.42" y="1202.6" width="9.6" height="17.2" stroke="#0a0a0a" stroke-width="1.1" fill="#fff"/>
<rect x="338.22" y="1210.8" width="2.8" height="2.8" fill="#0a0a0a"/>
<rect x="334.42" y="1229" width="9.6" height="18.4" stroke="#0a0a0a" stroke-width="1.1" fill="#fff"/>
<rect x="338.22" y="1237.8" width="2.8" height="2.8" fill="#0a0a0a"/>
<polygon points="342.82,1203 345.02,1199.2 347.02,1203" fill="#fff" stroke="#0a0a0a" stroke-width="0.9"/>
<rect x="336.02" y="1222.2" width="6.4" height="3.4" stroke="#555" stroke-width="0.8" fill="#ddd"/>
<path d="M345.02 1221L345.02 1229" stroke="#0a0a0a" stroke-width="1.2" fill="none"/>
<rect x="345.89" y="1202.6" width="9.6" height="17.2" stroke="#0a0a0a" stroke-width="1.1" fill="#fff"/>
<rect x="349.69" y="1210.8" width="2.8" height="2.8" fill="#0a0a0a"/>
<rect x="345.89" y="1229" width="9.6" height="18.4" stroke="#0a0a0a" stroke-width="1.1" fill="#fff"/>
<rect x="349.69" y="1237.8" width="2.8" height="2.8" fill="#0a0a0a"/>
<polygon points="354.29,1203 356.49,1199.2 358.49,1203" fill="#fff" stroke="#0a0a0a" stroke-width="0.9"/>
<rect x="347.49" y="1222.2" width="6.4" height="3.4" stroke="#555" stroke-width="0.8" fill="#ddd"/>
<path d="M356.49 1221L356.49 1229" stroke="#0a0a0a" stroke-width="1.2" fill="none"/>
<path d="M262.6 1203L262.6 1247" stroke="#0a0a0a" stroke-width="1.6" fill="none" stroke-dasharray="3 1.6"/>
<circle cx="371.9" cy="1228.8" r="4.6" stroke="#0a0a0a" stroke-width="1.6" fill="#fff"/>
<circle cx="371.9" cy="1228.8" r="3.2" stroke="#0a0a0a" stroke-width="0" fill="#222"/>
<path d="M387.4 1211.6H437.7Q444.7 1211.6 444.1 1218.6L440.1 1239.4Q439.3 1246.4 432.3 1246.4H392.8Q385.8 1246.4 385 1239.4L381 1218.6Q380.4 1211.6 387.4 1211.6Z" stroke="#0a0a0a" stroke-width="1.7" fill="#fff" stroke-linejoin="round"/>
<path d="M388.44 1214.2H436.66Q442.1 1214.2 441.5 1219.64L437.5 1238.36Q436.7 1243.8 431.26 1243.8H393.84Q388.4 1243.8 387.6 1238.36L383.6 1219.64Q383 1214.2 388.44 1214.2Z" stroke="#0a0a0a" stroke-width="1" fill="#fff" stroke-linejoin="round"/>
<circle cx="394.15" cy="1224.5" r="1.5" stroke="#0a0a0a" stroke-width="0" fill="#0a0a0a"/>
<circle cx="403.35" cy="1224.5" r="1.5" stroke="#0a0a0a" stroke-width="0" fill="#0a0a0a"/>
<circle cx="412.55" cy="1224.5" r="1.5" stroke="#0a0a0a" stroke-width="0" fill="#0a0a0a"/>
<circle cx="421.75" cy="1224.5" r="1.5" stroke="#0a0a0a" stroke-width="0" fill="#0a0a0a"/>
<circle cx="430.95" cy="1224.5" r="1.5" stroke="#0a0a0a" stroke-width="0" fill="#0a0a0a"/>
<circle cx="398.75" cy="1233.7" r="1.5" stroke="#0a0a0a" stroke-width="0" fill="#0a0a0a"/>
<circle cx="407.95" cy="1233.7" r="1.5" stroke="#0a0a0a" stroke-width="0" fill="#0a0a0a"/>
<circle cx="417.15" cy="1233.7" r="1.5" stroke="#0a0a0a" stroke-width="0" fill="#0a0a0a"/>
<circle cx="426.35" cy="1233.7" r="1.5" stroke="#0a0a0a" stroke-width="0" fill="#0a0a0a"/>
<circle cx="453.5" cy="1228.8" r="4.6" stroke="#0a0a0a" stroke-width="1.6" fill="#fff"/>
<path d="M453.9 1225.2L453.9 1232.4" stroke="#0a0a0a" stroke-width="1.2" fill="none"/>
<circle cx="371.9" cy="1228.8" r="4.6" stroke="#0a0a0a" stroke-width="1.6" fill="none"/>
<circle cx="484" cy="1228.8" r="4.6" stroke="#0a0a0a" stroke-width="1.6" fill="#fff"/>
<path d="M480.4 1229.4L487.6 1229.4" stroke="#0a0a0a" stroke-width="1.2" fill="none"/>
<path d="M499.6 1211.6H550.3Q557.3 1211.6 556.7 1218.6L552.7 1239.4Q551.9 1246.4 544.9 1246.4H505Q498 1246.4 497.2 1239.4L493.2 1218.6Q492.6 1211.6 499.6 1211.6Z" stroke="#0a0a0a" stroke-width="1.7" fill="#fff" stroke-linejoin="round"/>
<path d="M500.64 1214.2H549.26Q554.7 1214.2 554.1 1219.64L550.1 1238.36Q549.3 1243.8 543.86 1243.8H506.04Q500.6 1243.8 499.8 1238.36L495.8 1219.64Q495.2 1214.2 500.64 1214.2Z" stroke="#0a0a0a" stroke-width="1" fill="#fff" stroke-linejoin="round"/>
<circle cx="506.55" cy="1224.5" r="1.5" stroke="#0a0a0a" stroke-width="0" fill="#0a0a0a"/>
<circle cx="515.75" cy="1224.5" r="1.5" stroke="#0a0a0a" stroke-width="0" fill="#0a0a0a"/>
<circle cx="524.95" cy="1224.5" r="1.5" stroke="#0a0a0a" stroke-width="0" fill="#0a0a0a"/>
<circle cx="534.15" cy="1224.5" r="1.5" stroke="#0a0a0a" stroke-width="0" fill="#0a0a0a"/>
<circle cx="543.35" cy="1224.5" r="1.5" stroke="#0a0a0a" stroke-width="0" fill="#0a0a0a"/>
<circle cx="511.15" cy="1233.7" r="1.5" stroke="#0a0a0a" stroke-width="0" fill="#0a0a0a"/>
<circle cx="520.35" cy="1233.7" r="1.5" stroke="#0a0a0a" stroke-width="0" fill="#0a0a0a"/>
<circle cx="529.55" cy="1233.7" r="1.5" stroke="#0a0a0a" stroke-width="0" fill="#0a0a0a"/>
<circle cx="538.75" cy="1233.7" r="1.5" stroke="#0a0a0a" stroke-width="0" fill="#0a0a0a"/>
<circle cx="566" cy="1228.8" r="4.6" stroke="#0a0a0a" stroke-width="1.6" fill="#fff"/>
<path d="M562.4 1229.4L569.6 1229.4" stroke="#0a0a0a" stroke-width="1.2" fill="none"/>
<path d="M566.4 1225L566.4 1229" stroke="#0a0a0a" stroke-width="1" fill="none"/>
<rect x="592.2" y="1194.4" width="50.9" height="54.4" rx="1" fill="#111"/>
<rect x="593.5" y="1195.8" width="3" height="1.6" fill="#eee"/>
<rect x="638.8" y="1195.8" width="3" height="1.6" fill="#eee"/>
<rect x="593.1" y="1245.6" width="3" height="1.6" fill="#eee"/>
<rect x="639.2" y="1245.6" width="3" height="1.6" fill="#eee"/>
<rect x="614.2" y="1195.6" width="6.6" height="1" fill="#eee"/>
<rect x="601.2" y="1197.4" width="32.9" height="1.6" fill="#555"/>
<path d="M596.6 1199.4L596.6 1243.8" stroke="#aaa" stroke-width="0.8" fill="none"/>
<path d="M638.7 1199.4L638.7 1243.8" stroke="#aaa" stroke-width="0.8" fill="none"/>
<rect x="601.8" y="1203.8" width="31.7" height="2.1" fill="#fff"/>
<polygon points="598.2,1206.7 637.1,1206.7 637.1,1211.8 633.7,1214.8 601.6,1214.8 598.2,1211.8" fill="#fff"/>
<rect x="604.4" y="1207.1" width="3" height="3.3" fill="#111"/>
<rect x="605.3" y="1208" width="1.2" height="1.6" fill="#999"/>
<rect x="612.23" y="1207.1" width="3" height="3.3" fill="#111"/>
<rect x="613.13" y="1208" width="1.2" height="1.6" fill="#999"/>
<rect x="620.07" y="1207.1" width="3" height="3.3" fill="#111"/>
<rect x="620.97" y="1208" width="1.2" height="1.6" fill="#999"/>
<rect x="627.9" y="1207.1" width="3" height="3.3" fill="#111"/>
<rect x="628.8" y="1208" width="1.2" height="1.6" fill="#999"/>
<rect x="605.8" y="1212.8" width="5.8" height="2.4" fill="#111"/>
<rect x="623.7" y="1212.8" width="5.8" height="2.4" fill="#111"/>
<rect x="601.8" y="1231.8" width="31.7" height="2.1" fill="#fff"/>
<polygon points="598.2,1234.7 637.1,1234.7 637.1,1239.8 633.7,1242.8 601.6,1242.8 598.2,1239.8" fill="#fff"/>
<rect x="604.4" y="1235.1" width="3" height="3.3" fill="#111"/>
<rect x="605.3" y="1236" width="1.2" height="1.6" fill="#999"/>
<rect x="612.23" y="1235.1" width="3" height="3.3" fill="#111"/>
<rect x="613.13" y="1236" width="1.2" height="1.6" fill="#999"/>
<rect x="620.07" y="1235.1" width="3" height="3.3" fill="#111"/>
<rect x="620.97" y="1236" width="1.2" height="1.6" fill="#999"/>
<rect x="627.9" y="1235.1" width="3" height="3.3" fill="#111"/>
<rect x="628.8" y="1236" width="1.2" height="1.6" fill="#999"/>
<rect x="605.8" y="1240.8" width="5.8" height="2.4" fill="#111"/>
<rect x="623.7" y="1240.8" width="5.8" height="2.4" fill="#111"/>
<rect x="597.4" y="1219.2" width="4.8" height="4.8" fill="#fff"/>
<rect x="633.1" y="1219.2" width="4.8" height="4.8" fill="#fff"/>
<rect x="598.8" y="1220.5" width="2" height="2.2" fill="#444"/>
<rect x="634.5" y="1220.5" width="2" height="2.2" fill="#444"/>
<rect x="603" y="1216" width="4.8" height="9.2" fill="#fff"/>
<rect x="627.5" y="1216" width="4.8" height="9.2" fill="#fff"/>
<rect x="615.85" y="1219.8" width="3.6" height="3.6" fill="#fff"/>
<polygon points="609.8,1220.2 613.6,1221.6 609.8,1223" fill="#ddd"/>
<polygon points="625.5,1220.2 621.7,1221.6 625.5,1223" fill="#ddd"/>
<rect x="648" y="1204" width="58" height="47" rx="1.5" stroke="#0a0a0a" stroke-width="2.2" fill="#fff"/>
<rect x="649.5" y="1205.5" width="54" height="44" stroke="#555" stroke-width="0.7" fill="none"/>
<path d="M654.4 1208.4V1242.4H697.9V1208.4" stroke="#0a0a0a" stroke-width="1.6" fill="none" stroke-linejoin="round"/>
<path d="M654.4 1208.4L697.9 1208.4" stroke="#0a0a0a" stroke-width="1.6" fill="none"/>
<path d="M656.6 1221V1240.2H695.7V1221" stroke="#444" stroke-width="0.9" fill="none" stroke-linejoin="round"/>
<path d="M654.4 1220.8L697.9 1220.8" stroke="#0a0a0a" stroke-width="1" fill="none"/>
<path d="M654.4 1213H663V1210.6H668V1216.8H664.4" stroke="#0a0a0a" stroke-width="1" fill="none" stroke-linejoin="round"/>
<path d="M654.4 1216.8L664.4 1216.8" stroke="#0a0a0a" stroke-width="1" fill="none"/>
<path d="M697.9 1213H689.3V1210.6H684.3V1216.8H687.9" stroke="#0a0a0a" stroke-width="1" fill="none" stroke-linejoin="round"/>
<path d="M697.9 1216.8L687.9 1216.8" stroke="#0a0a0a" stroke-width="1" fill="none"/>
<rect x="663" y="1237.6" width="25.9" height="3.8" fill="#0a0a0a"/>
<path d="M664.62 1235.2L664.62 1238" stroke="#0a0a0a" stroke-width="2" fill="none"/>
<path d="M667.86 1235.2L667.86 1238" stroke="#0a0a0a" stroke-width="2" fill="none"/>
<path d="M671.09 1235.2L671.09 1238" stroke="#0a0a0a" stroke-width="2" fill="none"/>
<path d="M674.33 1235.2L674.33 1238" stroke="#0a0a0a" stroke-width="2" fill="none"/>
<path d="M677.57 1235.2L677.57 1238" stroke="#0a0a0a" stroke-width="2" fill="none"/>
<path d="M680.81 1235.2L680.81 1238" stroke="#0a0a0a" stroke-width="2" fill="none"/>
<path d="M684.04 1235.2L684.04 1238" stroke="#0a0a0a" stroke-width="2" fill="none"/>
<path d="M687.28 1235.2L687.28 1238" stroke="#0a0a0a" stroke-width="2" fill="none"/>
<rect x="710" y="1204" width="58" height="47" rx="1.5" stroke="#0a0a0a" stroke-width="2.2" fill="#fff"/>
<rect x="712.5" y="1205.5" width="53" height="44" stroke="#555" stroke-width="0.7" fill="none"/>
<path d="M717.2 1208.4V1242.4H760V1208.4" stroke="#0a0a0a" stroke-width="1.6" fill="none" stroke-linejoin="round"/>
<path d="M717.2 1208.4L760 1208.4" stroke="#0a0a0a" stroke-width="1.6" fill="none"/>
<path d="M719.4 1221V1240.2H757.8V1221" stroke="#444" stroke-width="0.9" fill="none" stroke-linejoin="round"/>
<path d="M717.2 1220.8L760 1220.8" stroke="#0a0a0a" stroke-width="1" fill="none"/>
<path d="M717.2 1213H725.8V1210.6H730.8V1216.8H727.2" stroke="#0a0a0a" stroke-width="1" fill="none" stroke-linejoin="round"/>
<path d="M717.2 1216.8L727.2 1216.8" stroke="#0a0a0a" stroke-width="1" fill="none"/>
<path d="M760 1213H751.4V1210.6H746.4V1216.8H750" stroke="#0a0a0a" stroke-width="1" fill="none" stroke-linejoin="round"/>
<path d="M760 1216.8L750 1216.8" stroke="#0a0a0a" stroke-width="1" fill="none"/>
<rect x="725.8" y="1237.6" width="25.2" height="3.8" fill="#0a0a0a"/>
<path d="M727.38 1235.2L727.38 1238" stroke="#0a0a0a" stroke-width="2" fill="none"/>
<path d="M730.52 1235.2L730.52 1238" stroke="#0a0a0a" stroke-width="2" fill="none"/>
<path d="M733.67 1235.2L733.67 1238" stroke="#0a0a0a" stroke-width="2" fill="none"/>
<path d="M736.82 1235.2L736.82 1238" stroke="#0a0a0a" stroke-width="2" fill="none"/>
<path d="M739.98 1235.2L739.98 1238" stroke="#0a0a0a" stroke-width="2" fill="none"/>
<path d="M743.12 1235.2L743.12 1238" stroke="#0a0a0a" stroke-width="2" fill="none"/>
<path d="M746.27 1235.2L746.27 1238" stroke="#0a0a0a" stroke-width="2" fill="none"/>
<path d="M749.42 1235.2L749.42 1238" stroke="#0a0a0a" stroke-width="2" fill="none"/>
<rect x="770.4" y="1194.4" width="51.1" height="54.4" rx="1" fill="#111"/>
<rect x="771.7" y="1195.8" width="3" height="1.6" fill="#eee"/>
<rect x="817.2" y="1195.8" width="3" height="1.6" fill="#eee"/>
<rect x="771.3" y="1245.6" width="3" height="1.6" fill="#eee"/>
<rect x="817.6" y="1245.6" width="3" height="1.6" fill="#eee"/>
<rect x="792.4" y="1195.6" width="6.6" height="1" fill="#eee"/>
<rect x="779.4" y="1197.4" width="33.1" height="1.6" fill="#555"/>
<path d="M774.8 1199.4L774.8 1243.8" stroke="#aaa" stroke-width="0.8" fill="none"/>
<path d="M817.1 1199.4L817.1 1243.8" stroke="#aaa" stroke-width="0.8" fill="none"/>
<rect x="780" y="1203.8" width="31.9" height="2.1" fill="#fff"/>
<polygon points="776.4,1206.7 815.5,1206.7 815.5,1211.8 812.1,1214.8 779.8,1214.8 776.4,1211.8" fill="#fff"/>
<rect x="782.6" y="1207.1" width="3" height="3.3" fill="#111"/>
<rect x="783.5" y="1208" width="1.2" height="1.6" fill="#999"/>
<rect x="790.5" y="1207.1" width="3" height="3.3" fill="#111"/>
<rect x="791.4" y="1208" width="1.2" height="1.6" fill="#999"/>
<rect x="798.4" y="1207.1" width="3" height="3.3" fill="#111"/>
<rect x="799.3" y="1208" width="1.2" height="1.6" fill="#999"/>
<rect x="806.3" y="1207.1" width="3" height="3.3" fill="#111"/>
<rect x="807.2" y="1208" width="1.2" height="1.6" fill="#999"/>
<rect x="784" y="1212.8" width="5.8" height="2.4" fill="#111"/>
<rect x="802.1" y="1212.8" width="5.8" height="2.4" fill="#111"/>
<rect x="780" y="1231.8" width="31.9" height="2.1" fill="#fff"/>
<polygon points="776.4,1234.7 815.5,1234.7 815.5,1239.8 812.1,1242.8 779.8,1242.8 776.4,1239.8" fill="#fff"/>
<rect x="782.6" y="1235.1" width="3" height="3.3" fill="#111"/>
<rect x="783.5" y="1236" width="1.2" height="1.6" fill="#999"/>
<rect x="790.5" y="1235.1" width="3" height="3.3" fill="#111"/>
<rect x="791.4" y="1236" width="1.2" height="1.6" fill="#999"/>
<rect x="798.4" y="1235.1" width="3" height="3.3" fill="#111"/>
<rect x="799.3" y="1236" width="1.2" height="1.6" fill="#999"/>
<rect x="806.3" y="1235.1" width="3" height="3.3" fill="#111"/>
<rect x="807.2" y="1236" width="1.2" height="1.6" fill="#999"/>
<rect x="784" y="1240.8" width="5.8" height="2.4" fill="#111"/>
<rect x="802.1" y="1240.8" width="5.8" height="2.4" fill="#111"/>
<rect x="775.6" y="1219.2" width="4.8" height="4.8" fill="#fff"/>
<rect x="811.5" y="1219.2" width="4.8" height="4.8" fill="#fff"/>
<rect x="777" y="1220.5" width="2" height="2.2" fill="#444"/>
<rect x="812.9" y="1220.5" width="2" height="2.2" fill="#444"/>
<rect x="781.2" y="1216" width="4.8" height="9.2" fill="#fff"/>
<rect x="805.9" y="1216" width="4.8" height="9.2" fill="#fff"/>
<rect x="794.15" y="1219.8" width="3.6" height="3.6" fill="#fff"/>
<polygon points="788,1220.2 791.8,1221.6 788,1223" fill="#ddd"/>
<polygon points="803.9,1220.2 800.1,1221.6 803.9,1223" fill="#ddd"/>
<circle cx="831.1" cy="1242" r="4.3" stroke="#0a0a0a" stroke-width="1.5" fill="none"/>
<path d="M850 1200.7Q850.4 1195.7 854.4 1195.7H859.2Q863.2 1195.7 863.2 1199.7V1241.8Q863.2 1245.8 859.2 1245.8H854.4Q850.4 1245.8 850 1240.8L845.4 1234.8Q844.4 1233.8 844.4 1230.8V1210.7Q844.4 1207.7 845.4 1206.7Z" stroke="#0a0a0a" stroke-width="3.4" fill="#fff" stroke-linejoin="round"/>
<g transform="translate(854.4 1220.75) scale(0.6 0.84) translate(-853.8 -1220.75)">
<path d="M850 1200.7Q850.4 1195.7 854.4 1195.7H859.2Q863.2 1195.7 863.2 1199.7V1241.8Q863.2 1245.8 859.2 1245.8H854.4Q850.4 1245.8 850 1240.8L845.4 1234.8Q844.4 1233.8 844.4 1230.8V1210.7Q844.4 1207.7 845.4 1206.7Z" stroke="#333" stroke-width="1.4" fill="none" stroke-linejoin="round" stroke-dasharray="3 0.8"/>
</g>
<rect x="851.6" y="1203.1" width="3.8" height="32.7" stroke="#0a0a0a" stroke-width="1" fill="#777"/>
<path d="M853.6 1204.1L853.6 1234.8" stroke="#ddd" stroke-width="1.2" fill="none"/>
<path d="M860.2 1213.7L860.2 1220.7" stroke="#0a0a0a" stroke-width="2" fill="none"/>
<path d="M860.2 1226.7L860.2 1233.7" stroke="#0a0a0a" stroke-width="2" fill="none"/>
<rect x="876" y="1221" width="70" height="29" rx="1.5" stroke="#0a0a0a" stroke-width="2.3" fill="#fff"/>
<rect x="904.5" y="1211.5" width="14" height="15" stroke="#0a0a0a" stroke-width="1.4" fill="#fff"/>
<path d="M877.2 1230L877.2 1234" stroke="#0a0a0a" stroke-width="2.4" fill="none"/>
<circle cx="885.2" cy="1235.6" r="4.7" stroke="#0a0a0a" stroke-width="1.3" fill="none"/>
<circle cx="885.2" cy="1235.6" r="2.3" stroke="#0a0a0a" stroke-width="1.2" fill="none"/>
<circle cx="937" cy="1235.6" r="4.7" stroke="#0a0a0a" stroke-width="1.3" fill="none"/>
<circle cx="937" cy="1235.6" r="2.3" stroke="#0a0a0a" stroke-width="1.2" fill="none"/>
<path d="M894.3 1227.1H927.8V1241.6Q927.4 1245.2 920.4 1246.9Q914.2 1247.8 911 1242.6Q907.4 1247.8 901.4 1246.9Q894.8 1245.2 894.3 1241.6Z" stroke="#0a0a0a" stroke-width="1.5" fill="#fff" stroke-linejoin="round"/>
<path d="M900.6 1223L900.6 1227" stroke="#0a0a0a" stroke-width="1.2" fill="none"/>
<path d="M921.6 1223L921.6 1227" stroke="#0a0a0a" stroke-width="1.2" fill="none"/>
<rect x="901" y="1234.6" width="2.6" height="2.6" fill="#0a0a0a"/>
<rect x="917" y="1234.6" width="2.6" height="2.6" fill="#0a0a0a"/>
<circle cx="961.5" cy="1236.4" r="12.4" stroke="#0a0a0a" stroke-width="2.3" fill="#fff"/>
<circle cx="961.5" cy="1236.4" r="10.4" stroke="#333" stroke-width="0.9" fill="none"/>
<path d="M957.3 1231.2A6.6 6.6 0 1 0 965.7 1231.2" stroke="#6e6e6e" stroke-width="2.4" fill="none" stroke-linejoin="round"/>
<path d="M961.5 1227.8L961.5 1235.8" stroke="#6e6e6e" stroke-width="2.2" fill="none"/>
<path d="M958.9 1233.2A4.4 4.4 0 1 0 964.1 1233.2" stroke="#222" stroke-width="0.8" fill="none" stroke-linejoin="round"/>
<rect x="113.5" y="1280.5" width="974" height="36" stroke="#0a0a0a" stroke-width="1.2" fill="none"/>
<path d="M113.4 1280.5L1087.1 1280.5" stroke="#0a0a0a" stroke-width="1.4" fill="none"/>
<path d="M121.5 1280L121.5 1316.6" stroke="#0a0a0a" stroke-width="1" fill="none"/>
<path d="M1078.5 1280L1078.5 1316.6" stroke="#0a0a0a" stroke-width="1" fill="none"/>
<path d="M82.6 1316.6H1118Q1119.9 1316.6 1119.9 1318.6V1330.4Q1119.9 1337.6 1110 1339.8H90.6Q80.6 1337.6 80.6 1330.4V1318.6Q80.6 1316.6 82.6 1316.6Z" stroke="#0a0a0a" stroke-width="1.4" fill="none" stroke-linejoin="round"/>
<path d="M81 1317L1119.6 1317" stroke="#0a0a0a" stroke-width="2" fill="none"/>
<path d="M91.4 1336.5L1109 1336.5" stroke="#0a0a0a" stroke-width="1" fill="none"/>
<path d="M87.5 1317V1331.4Q87.8 1335 91.4 1336.1" stroke="#0a0a0a" stroke-width="1" fill="none" stroke-linejoin="round"/>
<path d="M1113 1317V1331.4Q1112.6 1335 1109 1336.1" stroke="#0a0a0a" stroke-width="1" fill="none" stroke-linejoin="round"/>
<path d="M244.9 1241.8L244.9 1298.3" stroke="#a6a6a6" stroke-width="2.5" fill="none"/>
<path d="M244.9 1303.5L244.9 1411.2" stroke="#a6a6a6" stroke-width="2.5" fill="none" stroke-dasharray="14.6 5.4"/>
<polygon points="244.9,1421.3 239.2,1410.9 250.6,1410.9" fill="#0a0a0a"/>
<text x="231.22" y="1468.1" font-family="'Liberation Sans','Noto Sans CJK SC',sans-serif" font-size="49.4" fill="#0a0a0a" textLength="27.26" lengthAdjust="spacingAndGlyphs" stroke="#0a0a0a" stroke-width="1.1">A</text>
<path d="M310.1 1241.8L310.1 1298.3" stroke="#a6a6a6" stroke-width="2.5" fill="none"/>
<path d="M310.1 1303.5L310.1 1411.2" stroke="#a6a6a6" stroke-width="2.5" fill="none" stroke-dasharray="14.6 5.4"/>
<polygon points="310.1,1421.3 304.4,1410.9 315.8,1410.9" fill="#0a0a0a"/>
<text x="296.72" y="1468.1" font-family="'Liberation Sans','Noto Sans CJK SC',sans-serif" font-size="49.4" fill="#0a0a0a" textLength="29.07" lengthAdjust="spacingAndGlyphs" stroke="#0a0a0a" stroke-width="1.1">B</text>
<path d="M411.9 1241.8L411.9 1298.3" stroke="#a6a6a6" stroke-width="2.5" fill="none"/>
<path d="M411.9 1303.5L411.9 1411.2" stroke="#a6a6a6" stroke-width="2.5" fill="none" stroke-dasharray="14.6 5.4"/>
<polygon points="411.9,1421.3 406.2,1410.9 417.6,1410.9" fill="#0a0a0a"/>
<text x="398.18" y="1468.1" font-family="'Liberation Sans','Noto Sans CJK SC',sans-serif" font-size="49.4" fill="#0a0a0a" textLength="27.25" lengthAdjust="spacingAndGlyphs" stroke="#0a0a0a" stroke-width="1.1">C</text>
<path d="M524.9 1241.8L524.9 1298.3" stroke="#a6a6a6" stroke-width="2.5" fill="none"/>
<path d="M524.9 1303.5L524.9 1411.2" stroke="#a6a6a6" stroke-width="2.5" fill="none" stroke-dasharray="14.6 5.4"/>
<polygon points="524.9,1421.3 519.2,1410.9 530.6,1410.9" fill="#0a0a0a"/>
<text x="510.63" y="1468.1" font-family="'Liberation Sans','Noto Sans CJK SC',sans-serif" font-size="49.4" fill="#0a0a0a" textLength="29.63" lengthAdjust="spacingAndGlyphs" stroke="#0a0a0a" stroke-width="1.1">D</text>
<path d="M618.1 1241.8L618.1 1298.3" stroke="#a6a6a6" stroke-width="2.5" fill="none"/>
<path d="M618.1 1303.5L618.1 1411.2" stroke="#a6a6a6" stroke-width="2.5" fill="none" stroke-dasharray="14.6 5.4"/>
<polygon points="618.1,1421.3 612.4,1410.9 623.8,1410.9" fill="#0a0a0a"/>
<text x="606.09" y="1468.1" font-family="'Liberation Sans','Noto Sans CJK SC',sans-serif" font-size="49.4" fill="#0a0a0a" textLength="23.63" lengthAdjust="spacingAndGlyphs" stroke="#0a0a0a" stroke-width="1.1">E</text>
<path d="M676.2 1241.8L676.2 1298.3" stroke="#a6a6a6" stroke-width="2.5" fill="none"/>
<path d="M676.2 1303.5L676.2 1411.2" stroke="#a6a6a6" stroke-width="2.5" fill="none" stroke-dasharray="14.6 5.4"/>
<polygon points="676.2,1421.3 670.5,1410.9 681.9,1410.9" fill="#0a0a0a"/>
<text x="664.49" y="1468.1" font-family="'Liberation Sans','Noto Sans CJK SC',sans-serif" font-size="49.4" fill="#0a0a0a" textLength="23.87" lengthAdjust="spacingAndGlyphs" stroke="#0a0a0a" stroke-width="1.1">F</text>
<path d="M738.8 1241.8L738.8 1298.3" stroke="#a6a6a6" stroke-width="2.5" fill="none"/>
<path d="M738.8 1303.5L738.8 1411.2" stroke="#a6a6a6" stroke-width="2.5" fill="none" stroke-dasharray="14.6 5.4"/>
<polygon points="738.8,1421.3 733.1,1410.9 744.5,1410.9" fill="#0a0a0a"/>
<text x="723.24" y="1468.1" font-family="'Liberation Sans','Noto Sans CJK SC',sans-serif" font-size="49.4" fill="#0a0a0a" textLength="31.93" lengthAdjust="spacingAndGlyphs" stroke="#0a0a0a" stroke-width="1.1">G</text>
<path d="M795.8 1241.8L795.8 1298.3" stroke="#a6a6a6" stroke-width="2.5" fill="none"/>
<path d="M795.8 1303.5L795.8 1411.2" stroke="#a6a6a6" stroke-width="2.5" fill="none" stroke-dasharray="14.6 5.4"/>
<polygon points="795.8,1421.3 790.1,1410.9 801.5,1410.9" fill="#0a0a0a"/>
<text x="780.25" y="1468.1" font-family="'Liberation Sans','Noto Sans CJK SC',sans-serif" font-size="49.4" fill="#0a0a0a" textLength="31.29" lengthAdjust="spacingAndGlyphs" stroke="#0a0a0a" stroke-width="1.1">H</text>
<path d="M855.2 1241.8L855.2 1298.3" stroke="#a6a6a6" stroke-width="2.5" fill="none"/>
<path d="M855.2 1303.5L855.2 1411.2" stroke="#a6a6a6" stroke-width="2.5" fill="none" stroke-dasharray="14.6 5.4"/>
<polygon points="855.2,1421.3 849.5,1410.9 860.9,1410.9" fill="#0a0a0a"/>
<text x="849.75" y="1468.1" font-family="'Liberation Sans','Noto Sans CJK SC',sans-serif" font-size="49.4" fill="#0a0a0a" textLength="13.11" lengthAdjust="spacingAndGlyphs" stroke="#0a0a0a" stroke-width="1.1">I</text>
<path d="M911.5 1241.8L911.5 1298.3" stroke="#a6a6a6" stroke-width="2.5" fill="none"/>
<path d="M911.5 1303.5L911.5 1411.2" stroke="#a6a6a6" stroke-width="2.5" fill="none" stroke-dasharray="14.6 5.4"/>
<polygon points="911.5,1421.3 905.8,1410.9 917.2,1410.9" fill="#0a0a0a"/>
<text x="897.34" y="1468.1" font-family="'Liberation Sans','Noto Sans CJK SC',sans-serif" font-size="49.4" fill="#0a0a0a" textLength="20.97" lengthAdjust="spacingAndGlyphs" stroke="#0a0a0a" stroke-width="1.1">J</text>
<path d="M961.6 1241.8L961.6 1298.3" stroke="#a6a6a6" stroke-width="2.5" fill="none"/>
<path d="M961.6 1303.5L961.6 1411.2" stroke="#a6a6a6" stroke-width="2.5" fill="none" stroke-dasharray="14.6 5.4"/>
<polygon points="961.6,1421.3 955.9,1410.9 967.3,1410.9" fill="#0a0a0a"/>
<text x="946.5" y="1468.1" font-family="'Liberation Sans','Noto Sans CJK SC',sans-serif" font-size="49.4" fill="#0a0a0a" textLength="29.3" lengthAdjust="spacingAndGlyphs" stroke="#0a0a0a" stroke-width="1.1">K</text>
</g>
<g id="top-view">
<rect x="1343.5" y="1170.5" width="818" height="112" stroke="#0a0a0a" stroke-width="1.4" fill="none"/>
<path d="M1343 1171L2161 1171" stroke="#0a0a0a" stroke-width="2" fill="none"/>
<path d="M1347.5 1171L1347.5 1282.6" stroke="#0a0a0a" stroke-width="1" fill="none"/>
<path d="M2156.5 1171L2156.5 1282.6" stroke="#0a0a0a" stroke-width="1" fill="none"/>
<path d="M1343 1225L2161 1225" stroke="#0a0a0a" stroke-width="1.8" fill="none"/>
<path d="M1347 1227.5L2157 1227.5" stroke="#0a0a0a" stroke-width="1" fill="none"/>
<rect x="1264.5" y="1282.5" width="975" height="36" stroke="#0a0a0a" stroke-width="1.2" fill="none"/>
<path d="M1264.9 1283L2239.1 1283" stroke="#0a0a0a" stroke-width="1.6" fill="none"/>
<path d="M1274.5 1282.6L1274.5 1318" stroke="#0a0a0a" stroke-width="1" fill="none"/>
<path d="M2229.5 1282.6L2229.5 1318" stroke="#0a0a0a" stroke-width="1" fill="none"/>
<path d="M1234.2 1318H2269.4Q2271.4 1318 2271.4 1320V1331.8Q2271.4 1339 2261.4 1341.2H1242.2Q1232.2 1339 1232.2 1331.8V1320Q1232.2 1318 1234.2 1318Z" stroke="#0a0a0a" stroke-width="1.4" fill="none" stroke-linejoin="round"/>
<path d="M1232.2 1318L2271.4 1318" stroke="#0a0a0a" stroke-width="2" fill="none"/>
<path d="M1242.8 1337.5L2260.8 1337.5" stroke="#0a0a0a" stroke-width="1" fill="none"/>
<path d="M1239.2 1318.4V1332.8Q1239.5 1336.4 1243 1337.5" stroke="#0a0a0a" stroke-width="1" fill="none" stroke-linejoin="round"/>
<path d="M2264.4 1318.4V1332.8Q2264.1 1336.4 2260.6 1337.5" stroke="#0a0a0a" stroke-width="1" fill="none" stroke-linejoin="round"/>
<circle cx="1387.7" cy="1254.1" r="11" stroke="#0a0a0a" stroke-width="1.3" fill="none"/>
<circle cx="1387.7" cy="1254.1" r="3.9" stroke="#0a0a0a" stroke-width="1.6" fill="#777"/>
<path d="M1385.5 1255.2L1389.9 1255.2" stroke="#0a0a0a" stroke-width="1.2" fill="none"/>
<circle cx="1551.8" cy="1254.1" r="11" stroke="#0a0a0a" stroke-width="1.3" fill="none"/>
<circle cx="1551.8" cy="1254.1" r="3.9" stroke="#0a0a0a" stroke-width="1.6" fill="#777"/>
<path d="M1549.6 1255.2L1554 1255.2" stroke="#0a0a0a" stroke-width="1.2" fill="none"/>
<circle cx="1952.2" cy="1254.1" r="11" stroke="#0a0a0a" stroke-width="1.3" fill="none"/>
<circle cx="1952.2" cy="1254.1" r="3.9" stroke="#0a0a0a" stroke-width="1.6" fill="#777"/>
<path d="M1950 1255.2L1954.4 1255.2" stroke="#0a0a0a" stroke-width="1.2" fill="none"/>
<circle cx="2116.3" cy="1254.1" r="11" stroke="#0a0a0a" stroke-width="1.3" fill="none"/>
<circle cx="2116.3" cy="1254.1" r="3.9" stroke="#0a0a0a" stroke-width="1.6" fill="#777"/>
<path d="M2114.1 1255.2L2118.5 1255.2" stroke="#0a0a0a" stroke-width="1.2" fill="none"/>
<path d="M1572 1228.6L1603.6 1238.6Q1608.5 1241 1608.7 1246V1263.6Q1608.5 1268.6 1603.6 1271.4L1572 1281.8" stroke="#0a0a0a" stroke-width="1.5" fill="none" stroke-linejoin="round"/>
<rect x="1567.3" y="1233.6" width="4.6" height="44" rx="1.4" stroke="#0a0a0a" stroke-width="1.4" fill="none"/>
<rect x="1577.3" y="1237.6" width="4.6" height="35.8" rx="1.4" stroke="#0a0a0a" stroke-width="1.4" fill="none"/>
<rect x="1587.1" y="1241" width="4.6" height="29.2" rx="1.4" stroke="#0a0a0a" stroke-width="1.4" fill="none"/>
<rect x="1596.7" y="1244.4" width="4.6" height="22" rx="1.4" stroke="#0a0a0a" stroke-width="1.4" fill="none"/>
<path d="M1932 1228.6L1900.4 1238.6Q1895.5 1241 1895.3 1246V1263.6Q1895.5 1268.6 1900.4 1271.4L1932 1281.8" stroke="#0a0a0a" stroke-width="1.5" fill="none" stroke-linejoin="round"/>
<rect x="1932.1" y="1233.6" width="4.6" height="44" rx="1.4" stroke="#0a0a0a" stroke-width="1.4" fill="none"/>
<rect x="1922.1" y="1237.6" width="4.6" height="35.8" rx="1.4" stroke="#0a0a0a" stroke-width="1.4" fill="none"/>
<rect x="1912.3" y="1241" width="4.6" height="29.2" rx="1.4" stroke="#0a0a0a" stroke-width="1.4" fill="none"/>
<rect x="1902.7" y="1244.4" width="4.6" height="22" rx="1.4" stroke="#0a0a0a" stroke-width="1.4" fill="none"/>
</g>
<g id="port-table">
<rect x="385" y="1734" width="1584.4" height="3" fill="#919191"/>
<rect x="385" y="1788" width="1584.4" height="3" fill="#919191"/>
<rect x="385" y="1875" width="1584.4" height="3" fill="#919191"/>
<rect x="385" y="1733.9" width="3" height="143.8" fill="#919191"/>
<rect x="498" y="1733.9" width="3" height="143.8" fill="#919191"/>
<rect x="611" y="1733.9" width="3" height="143.8" fill="#919191"/>
<rect x="724" y="1733.9" width="3" height="143.8" fill="#919191"/>
<rect x="837" y="1733.9" width="3" height="143.8" fill="#919191"/>
<rect x="950" y="1733.9" width="3" height="143.8" fill="#919191"/>
<rect x="1063" y="1733.9" width="3" height="143.8" fill="#919191"/>
<rect x="1176" y="1733.9" width="3" height="143.8" fill="#919191"/>
<rect x="1289" y="1733.9" width="3" height="143.8" fill="#919191"/>
<rect x="1402" y="1733.9" width="3" height="143.8" fill="#919191"/>
<rect x="1515" y="1733.9" width="3" height="143.8" fill="#919191"/>
<rect x="1628" y="1733.9" width="3" height="143.8" fill="#919191"/>
<rect x="1740" y="1733.9" width="3" height="143.8" fill="#919191"/>
<rect x="1853" y="1733.9" width="3" height="143.8" fill="#919191"/>
<rect x="1966" y="1733.9" width="3" height="143.8" fill="#919191"/>
<text x="429.8" y="1781.2" font-family="'Liberation Sans','Noto Sans CJK SC',sans-serif" font-size="49.2" fill="#0a0a0a" textLength="27.57" lengthAdjust="spacingAndGlyphs" stroke="#0a0a0a" stroke-width="1.2">A</text>
<text x="402.16" y="1843.8" font-family="'Liberation Sans','Noto Sans CJK SC',sans-serif" font-size="28.6" fill="#0a0a0a" textLength="82.42" lengthAdjust="spacingAndGlyphs" stroke="#0a0a0a" stroke-width="0.45">AUDIO</text>
<text x="542.15" y="1781.2" font-family="'Liberation Sans','Noto Sans CJK SC',sans-serif" font-size="49.2" fill="#0a0a0a" textLength="27.57" lengthAdjust="spacingAndGlyphs" stroke="#0a0a0a" stroke-width="1.2">B</text>
<text x="515.69" y="1826.9" font-family="'Liberation Sans','Noto Sans CJK SC',sans-serif" font-size="28.6" fill="#0a0a0a" textLength="74.75" lengthAdjust="spacingAndGlyphs" stroke="#0a0a0a" stroke-width="0.45">COM3</text>
<text x="510.84" y="1859.3" font-family="'Liberation Sans','Noto Sans CJK SC',sans-serif" font-size="28.6" fill="#0a0a0a" textLength="83.9" lengthAdjust="spacingAndGlyphs" stroke="#0a0a0a" stroke-width="0.45">-COM6</text>
<text x="654.31" y="1781.2" font-family="'Liberation Sans','Noto Sans CJK SC',sans-serif" font-size="49.2" fill="#0a0a0a" textLength="29.85" lengthAdjust="spacingAndGlyphs" stroke="#0a0a0a" stroke-width="1.2">C</text>
<text x="631.07" y="1843.8" font-family="'Liberation Sans','Noto Sans CJK SC',sans-serif" font-size="28.6" fill="#0a0a0a" textLength="75.19" lengthAdjust="spacingAndGlyphs" stroke="#0a0a0a" stroke-width="0.45">COM1</text>
<text x="766.82" y="1781.2" font-family="'Liberation Sans','Noto Sans CJK SC',sans-serif" font-size="49.2" fill="#0a0a0a" textLength="29.85" lengthAdjust="spacingAndGlyphs" stroke="#0a0a0a" stroke-width="1.2">D</text>
<text x="744.05" y="1843.8" font-family="'Liberation Sans','Noto Sans CJK SC',sans-serif" font-size="28.6" fill="#0a0a0a" textLength="75.19" lengthAdjust="spacingAndGlyphs" stroke="#0a0a0a" stroke-width="0.45">COM2</text>
<text x="880.82" y="1781.2" font-family="'Liberation Sans','Noto Sans CJK SC',sans-serif" font-size="49.2" fill="#0a0a0a" textLength="27.57" lengthAdjust="spacingAndGlyphs" stroke="#0a0a0a" stroke-width="1.2">E</text>
<text x="867.53" y="1843.8" font-family="'Liberation Sans','Noto Sans CJK SC',sans-serif" font-size="28.6" fill="#0a0a0a" textLength="53.51" lengthAdjust="spacingAndGlyphs" stroke="#0a0a0a" stroke-width="0.45">USB</text>
<text x="994.87" y="1781.2" font-family="'Liberation Sans','Noto Sans CJK SC',sans-serif" font-size="49.2" fill="#0a0a0a" textLength="25.24" lengthAdjust="spacingAndGlyphs" stroke="#0a0a0a" stroke-width="1.2">F</text>
<text x="982.24" y="1843.8" font-family="'Liberation Sans','Noto Sans CJK SC',sans-serif" font-size="28.6" fill="#0a0a0a" textLength="50.63" lengthAdjust="spacingAndGlyphs" stroke="#0a0a0a" stroke-width="0.45">LAN</text>
<text x="1105.75" y="1781.2" font-family="'Liberation Sans','Noto Sans CJK SC',sans-serif" font-size="49.2" fill="#0a0a0a" textLength="32.15" lengthAdjust="spacingAndGlyphs" stroke="#0a0a0a" stroke-width="1.2">G</text>
<text x="1095.2" y="1843.8" font-family="'Liberation Sans','Noto Sans CJK SC',sans-serif" font-size="28.6" fill="#0a0a0a" textLength="50.63" lengthAdjust="spacingAndGlyphs" stroke="#0a0a0a" stroke-width="0.45">LAN</text>
<text x="1219.35" y="1781.2" font-family="'Liberation Sans','Noto Sans CJK SC',sans-serif" font-size="49.2" fill="#0a0a0a" textLength="29.85" lengthAdjust="spacingAndGlyphs" stroke="#0a0a0a" stroke-width="1.2">H</text>
<text x="1206.4" y="1843.8" font-family="'Liberation Sans','Noto Sans CJK SC',sans-serif" font-size="28.6" fill="#0a0a0a" textLength="53.51" lengthAdjust="spacingAndGlyphs" stroke="#0a0a0a" stroke-width="0.45">USB</text>
<text x="1341.49" y="1781.2" font-family="'Liberation Sans','Noto Sans CJK SC',sans-serif" font-size="49.2" fill="#0a0a0a" textLength="11.48" lengthAdjust="spacingAndGlyphs" stroke="#0a0a0a" stroke-width="1.2">I</text>
<text x="1313.32" y="1843.8" font-family="'Liberation Sans','Noto Sans CJK SC',sans-serif" font-size="28.6" fill="#0a0a0a" textLength="66.5" lengthAdjust="spacingAndGlyphs" stroke="#0a0a0a" stroke-width="0.45">HDMI</text>
<text x="1449.87" y="1781.2" font-family="'Liberation Sans','Noto Sans CJK SC',sans-serif" font-size="49.2" fill="#0a0a0a" textLength="20.66" lengthAdjust="spacingAndGlyphs" stroke="#0a0a0a" stroke-width="1.2">J</text>
<text x="1423.96" y="1843.8" font-family="'Liberation Sans','Noto Sans CJK SC',sans-serif" font-size="28.6" fill="#0a0a0a" textLength="70.85" lengthAdjust="spacingAndGlyphs" stroke="#0a0a0a" stroke-width="0.45">DC IN</text>
<text x="1557.9" y="1781.2" font-family="'Liberation Sans','Noto Sans CJK SC',sans-serif" font-size="49.2" fill="#0a0a0a" textLength="27.57" lengthAdjust="spacingAndGlyphs" stroke="#0a0a0a" stroke-width="1.2">K</text>
<text x="1522.73" y="1843.8" font-family="'Liberation Sans','Noto Sans CJK SC',sans-serif" font-size="28.6" fill="#0a0a0a" textLength="98.32" lengthAdjust="spacingAndGlyphs" stroke="#0a0a0a" stroke-width="0.45">POWER</text>
<text x="1673.61" y="1781.2" font-family="'Liberation Sans','Noto Sans CJK SC',sans-serif" font-size="49.2" fill="#0a0a0a" textLength="22.98" lengthAdjust="spacingAndGlyphs" stroke="#0a0a0a" stroke-width="1.2">L</text>
<text x="1668.62" y="1843.8" font-family="'Liberation Sans','Noto Sans CJK SC',sans-serif" font-size="28.6" fill="#0a0a0a" textLength="34.72" lengthAdjust="spacingAndGlyphs" stroke="#0a0a0a" stroke-width="0.45">4G</text>
<text x="1781.85" y="1781.2" font-family="'Liberation Sans','Noto Sans CJK SC',sans-serif" font-size="49.2" fill="#0a0a0a" textLength="34.43" lengthAdjust="spacingAndGlyphs" stroke="#0a0a0a" stroke-width="1.2">M</text>
<text x="1771.95" y="1843.8" font-family="'Liberation Sans','Noto Sans CJK SC',sans-serif" font-size="28.6" fill="#0a0a0a" textLength="54.92" lengthAdjust="spacingAndGlyphs" stroke="#0a0a0a" stroke-width="0.45">WIFI</text>
<text x="1897.09" y="1781.2" font-family="'Liberation Sans','Noto Sans CJK SC',sans-serif" font-size="49.2" fill="#0a0a0a" textLength="29.85" lengthAdjust="spacingAndGlyphs" stroke="#0a0a0a" stroke-width="1.2">N</text>
<text x="1883.93" y="1845.4" font-family="'Liberation Sans','Noto Sans CJK SC',sans-serif" font-size="27" fill="#0a0a0a" textLength="54" lengthAdjust="spacingAndGlyphs">接地</text>
</g>
<g id="order-guide">
<text font-family="'Liberation Sans','Noto Sans CJK SC',sans-serif" font-size="50" fill="#231815" font-weight="bold" letter-spacing="2.7" x="78.6" y="2105.2">订购指南</text>
<rect x="79" y="2148" width="484" height="100" fill="#808080"/>
<rect x="573.5" y="2147" width="1701.5" height="100" fill="#808080"/>
<rect x="79" y="2257.4" width="484" height="148.6" fill="#808080"/>
<rect x="573.5" y="2257.2" width="1701.5" height="148.8" fill="#cccccc"/>
<text font-family="'Liberation Sans','Noto Sans CJK SC',sans-serif" font-size="28.2" fill="#fff" letter-spacing="2.76" x="165.61" y="2208.4">产品型号</text>
<text font-family="'Liberation Sans','Noto Sans CJK SC',sans-serif" font-size="28.2" fill="#fff" letter-spacing="3.86" x="1394.01" y="2207.4">描述</text>
<text font-family="'Liberation Sans','Noto Sans CJK SC',sans-serif" font-size="33" fill="#fff" letter-spacing="-0.06" transform="translate(166.13 2338.2) scale(0.9 1)">TPC-R121L</text>
<text font-family="'Liberation Sans','Noto Sans CJK SC',sans-serif" font-size="31.4" fill="#222021" letter-spacing="4.87" transform="translate(623.65 2321.8) scale(0.9 1)">12.1"</text>
<text font-family="'Liberation Sans','Noto Sans CJK SC',sans-serif" font-size="31.4" fill="#222021" letter-spacing="1.55" transform="translate(708.67 2321.8) scale(0.9 1)">TFT</text>
<text font-family="'Liberation Sans','Noto Sans CJK SC',sans-serif" font-size="31.4" fill="#222021" letter-spacing="2.63" transform="translate(777.48 2321.8) scale(0.9 1)">LCD</text>
<text x="840.3" y="2321.8" font-family="'Liberation Sans','Noto Sans CJK SC',sans-serif" font-size="31.4" fill="#222021" textLength="11.5" lengthAdjust="spacingAndGlyphs">/</text>
<text font-family="'Liberation Sans','Noto Sans CJK SC',sans-serif" font-size="29" fill="#222021" letter-spacing="2.82" x="852.45" y="2322.6">电阻触摸屏</text>
<text x="1011.4" y="2321.8" font-family="'Liberation Sans','Noto Sans CJK SC',sans-serif" font-size="31.4" fill="#222021" textLength="11" lengthAdjust="spacingAndGlyphs">/</text>
<text font-family="'Liberation Sans','Noto Sans CJK SC',sans-serif" font-size="31.4" fill="#222021" letter-spacing="4.5" transform="translate(1023.65 2321.8) scale(0.9 1)">1024*768</text>
<text font-family="'Liberation Sans','Noto Sans CJK SC',sans-serif" font-size="29" fill="#222021" letter-spacing="1.71" x="1175.72" y="2322.6">分辨率</text>
<text x="1269.1" y="2321.8" font-family="'Liberation Sans','Noto Sans CJK SC',sans-serif" font-size="31.4" fill="#222021" textLength="11.5" lengthAdjust="spacingAndGlyphs">/</text>
<text font-family="'Liberation Sans','Noto Sans CJK SC',sans-serif" font-size="31.4" fill="#222021" letter-spacing="6" transform="translate(1282.29 2321.8) scale(0.9 1)">Intel</text>
<text x="1358.63" y="2311.4" font-family="'Liberation Sans','Noto Sans CJK SC',sans-serif" font-size="17" fill="#222021" textLength="12.94" lengthAdjust="spacingAndGlyphs">®</text>
<text font-family="'Liberation Sans','Noto Sans CJK SC',sans-serif" font-size="31.4" fill="#222021" letter-spacing="4.67" transform="translate(1374.16 2321.8) scale(0.9 1)">Celeron</text>
<text x="1499.93" y="2311.4" font-family="'Liberation Sans','Noto Sans CJK SC',sans-serif" font-size="17" fill="#222021" textLength="12.94" lengthAdjust="spacingAndGlyphs">®</text>
<text font-family="'Liberation Sans','Noto Sans CJK SC',sans-serif" font-size="31.4" fill="#222021" letter-spacing="3.93" transform="translate(1516.86 2321.8) scale(0.9 1)">J6412</text>
<text x="1610.9" y="2321.8" font-family="'Liberation Sans','Noto Sans CJK SC',sans-serif" font-size="31.4" fill="#222021" textLength="11.5" lengthAdjust="spacingAndGlyphs">/</text>
<text font-family="'Liberation Sans','Noto Sans CJK SC',sans-serif" font-size="29" fill="#222021" letter-spacing="2.32" x="1623.83" y="2322.6">内存</text>
<text x="1687.66" y="2321.8" font-family="'Liberation Sans','Noto Sans CJK SC',sans-serif" font-size="30" fill="#222021" textLength="8.29" lengthAdjust="spacingAndGlyphs">(</text>
<text font-family="'Liberation Sans','Noto Sans CJK SC',sans-serif" font-size="29" fill="#222021" letter-spacing="2.81" x="1700.78" y="2322.6">可选</text>
<text font-family="'Liberation Sans','Noto Sans CJK SC',sans-serif" font-size="31.4" fill="#222021" letter-spacing="2.9" transform="translate(1762.85 2321.8) scale(0.9 1)">4G~32G</text>
<text x="1886.05" y="2321.8" font-family="'Liberation Sans','Noto Sans CJK SC',sans-serif" font-size="30" fill="#222021" textLength="8.42" lengthAdjust="spacingAndGlyphs">)</text>
<text x="1897.3" y="2321.8" font-family="'Liberation Sans','Noto Sans CJK SC',sans-serif" font-size="31.4" fill="#222021" textLength="11.5" lengthAdjust="spacingAndGlyphs">/</text>
<text font-family="'Liberation Sans','Noto Sans CJK SC',sans-serif" font-size="29" fill="#222021" letter-spacing="2.18" x="1910.9" y="2322.6">硬盘</text>
<text x="1974.06" y="2321.8" font-family="'Liberation Sans','Noto Sans CJK SC',sans-serif" font-size="30" fill="#222021" textLength="8.29" lengthAdjust="spacingAndGlyphs">(</text>
<text font-family="'Liberation Sans','Noto Sans CJK SC',sans-serif" font-size="29" fill="#222021" letter-spacing="2.81" x="1987.88" y="2322.6">可选</text>
<text font-family="'Liberation Sans','Noto Sans CJK SC',sans-serif" font-size="31.4" fill="#222021" letter-spacing="3.81" transform="translate(2049.85 2321.8) scale(0.9 1)">128G~1T</text>
<text x="2189.66" y="2321.8" font-family="'Liberation Sans','Noto Sans CJK SC',sans-serif" font-size="30" fill="#222021" textLength="8.04" lengthAdjust="spacingAndGlyphs">)</text>
<text x="2199.7" y="2321.8" font-family="'Liberation Sans','Noto Sans CJK SC',sans-serif" font-size="31.4" fill="#222021" textLength="9.7" lengthAdjust="spacingAndGlyphs">/</text>
<text font-family="'Liberation Sans','Noto Sans CJK SC',sans-serif" font-size="31.4" fill="#222021" letter-spacing="2.41" transform="translate(623.48 2365) scale(0.9 1)">DC9~36V</text>
<text font-family="'Liberation Sans','Noto Sans CJK SC',sans-serif" font-size="29" fill="#222021" letter-spacing="2.36" x="763.68" y="2365.8">输入</text>
</g>
</svg>
</body>
</html>
